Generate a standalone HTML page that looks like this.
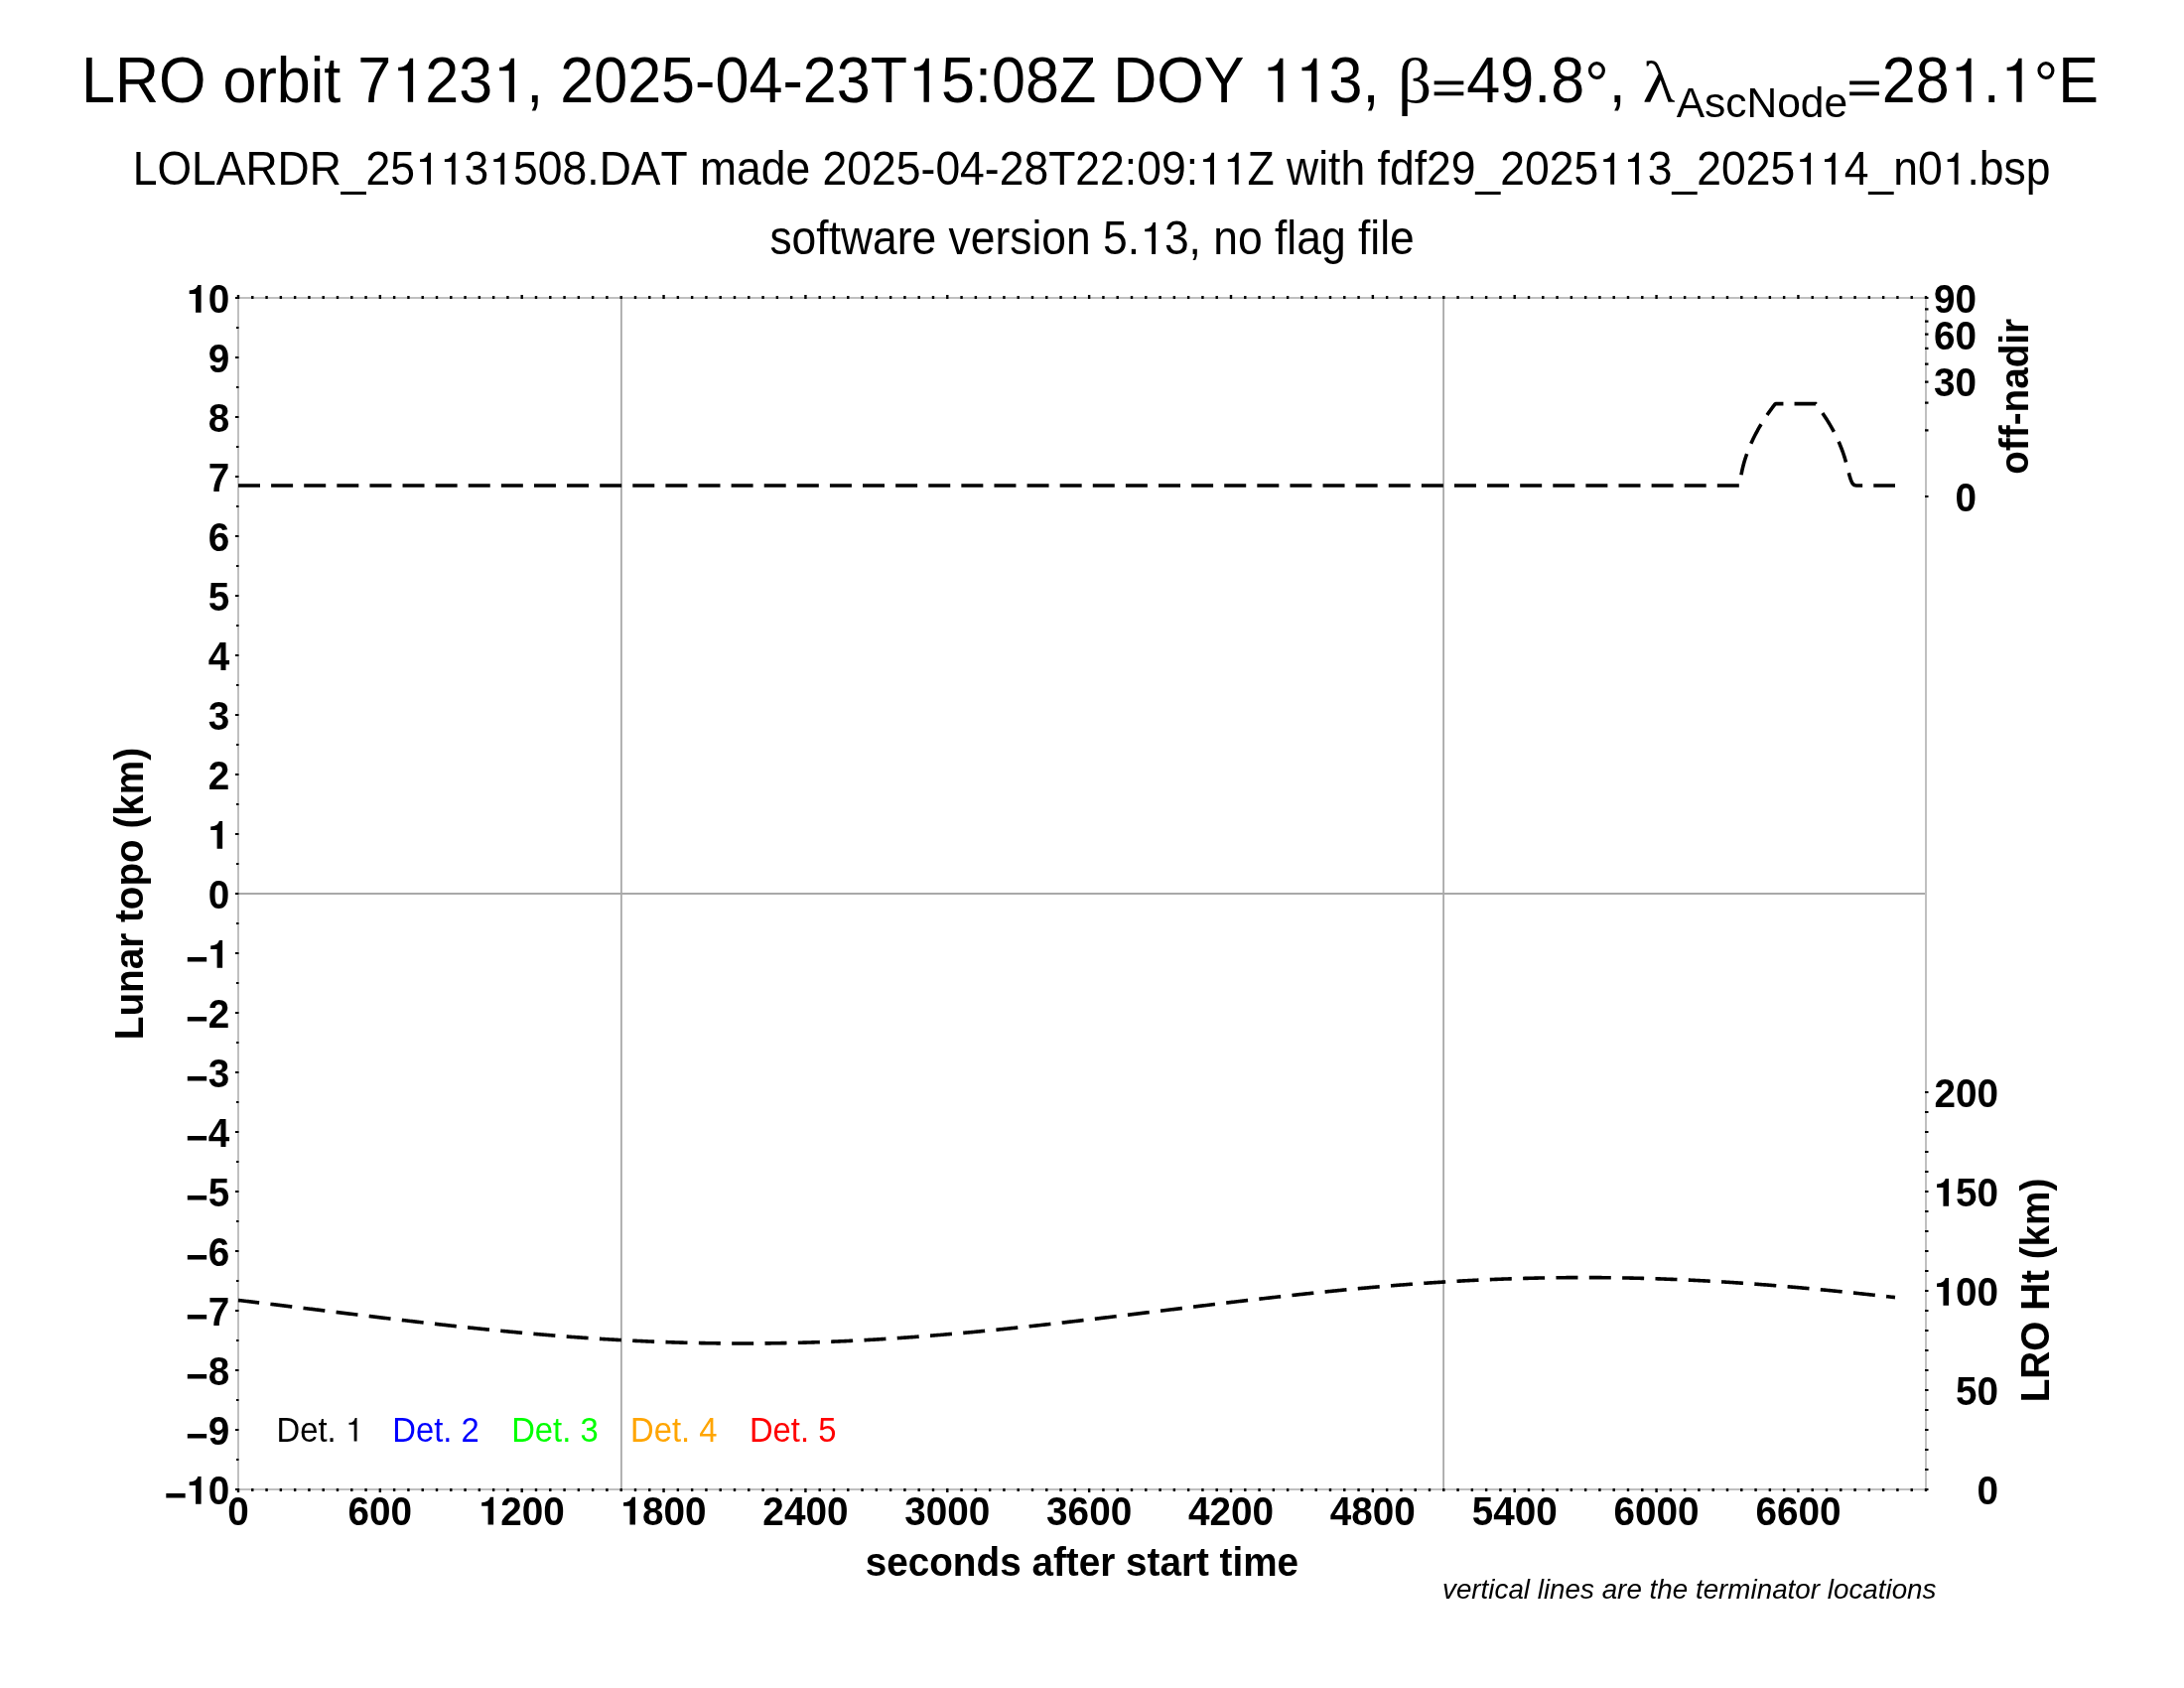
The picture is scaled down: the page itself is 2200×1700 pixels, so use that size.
<!DOCTYPE html><html><head><meta charset="utf-8"><title>LRO orbit 71231</title><style>html,body{margin:0;padding:0;background:#fff;overflow:hidden;}svg{display:block;will-change:transform;}text{font-family:"Liberation Sans",sans-serif;font-kerning:none;font-variant-ligatures:none;white-space:pre;}</style></head><body>
<svg width="2200" height="1700" viewBox="0 0 2200 1700">
<defs><path id="oner" d="M552 0H731V1385H618C560 1150 380 1100 230 1100V988H552Z"/><path id="oneb" d="M472 0H765V1380H590C535 1210 400 1120 134 1110V938H472Z"/><path id="eqr" d="M100 207H1095V327H100ZM100 553H1095V672H100Z"/></defs>
<rect x="0" y="0" width="2200" height="1700" fill="#fff"/>
<g font-size="61.1" transform="translate(0,102.80) scale(1,1.067) translate(0,-102.80)"><text x="81.90" y="102.80">LRO orbit 7</text><use href="#oner" transform="translate(394.32,102.80) scale(0.02983,-0.02983)"/><text x="428.30" y="102.80">23</text><use href="#oner" transform="translate(496.26,102.80) scale(0.02983,-0.02983)"/><text x="530.25" y="102.80">, 2025-04-23T</text><use href="#oner" transform="translate(914.06,102.80) scale(0.02983,-0.02983)"/><text x="948.04" y="102.80">5:08Z DOY </text><use href="#oner" transform="translate(1270.64,102.80) scale(0.02983,-0.02983)"/><use href="#oner" transform="translate(1304.62,102.80) scale(0.02983,-0.02983)"/><text x="1338.60" y="102.80">3, </text><text transform="translate(1407.93,102.80) scale(1.1,0.9700)" x="0" y="0" style="font-family:'Liberation Serif',serif">β</text><use href="#eqr" transform="translate(1441.67,102.80) scale(0.02983,-0.02983)"/><text x="1477.35" y="102.80">49.8</text><text x="1596.27" y="106.60">°</text><text x="1620.71" y="102.80">, </text><text transform="translate(1654.86,102.80) scale(1.1,0.8913)" x="0" y="0" style="font-family:'Liberation Serif',serif">λ</text></g>
<g font-size="42.5"><text x="1688.70" y="118.40">AscNode</text></g>
<g font-size="61.1" transform="translate(0,102.80) scale(1,1.067) translate(0,-102.80)"><use href="#eqr" transform="translate(1860.20,102.80) scale(0.02983,-0.02983)"/><text x="1895.88" y="102.80">28</text><use href="#oner" transform="translate(1963.84,102.80) scale(0.02983,-0.02983)"/><text x="1997.82" y="102.80">.</text><use href="#oner" transform="translate(2014.80,102.80) scale(0.02983,-0.02983)"/><text x="2048.78" y="106.60">°</text><text x="2073.21" y="102.80">E</text></g>
<g font-size="44.49" transform="translate(0,185.80) scale(1,1.067) translate(0,-185.80)"><text x="133.70" y="185.80">LOLARDR_25</text><use href="#oner" transform="translate(418.08,185.80) scale(0.02172,-0.02172)"/><use href="#oner" transform="translate(442.83,185.80) scale(0.02172,-0.02172)"/><text x="467.57" y="185.80">3</text><use href="#oner" transform="translate(492.31,185.80) scale(0.02172,-0.02172)"/><text x="517.06" y="185.80">508.DAT made 2025-04-28T22:09:</text><use href="#oner" transform="translate(1207.09,185.80) scale(0.02172,-0.02172)"/><use href="#oner" transform="translate(1231.83,185.80) scale(0.02172,-0.02172)"/><text x="1256.57" y="185.80">Z with fdf29_2025</text><use href="#oner" transform="translate(1610.26,185.80) scale(0.02172,-0.02172)"/><use href="#oner" transform="translate(1635.00,185.80) scale(0.02172,-0.02172)"/><text x="1659.74" y="185.80">3_2025</text><use href="#oner" transform="translate(1808.20,185.80) scale(0.02172,-0.02172)"/><use href="#oner" transform="translate(1832.94,185.80) scale(0.02172,-0.02172)"/><text x="1857.69" y="185.80">4_n0</text><use href="#oner" transform="translate(1956.66,185.80) scale(0.02172,-0.02172)"/><text x="1981.40" y="185.80">.bsp</text></g>
<g font-size="44.42" transform="translate(0,256.00) scale(1,1.067) translate(0,-256.00)"><text x="775.40" y="256.00">software version 5.</text><use href="#oner" transform="translate(1148.20,256.00) scale(0.02169,-0.02169)"/><text x="1172.90" y="256.00">3, no flag file</text></g>
<line x1="240" y1="900" x2="1940" y2="900" stroke="#a9a9a9" stroke-width="1.8"/>
<line x1="625.9" y1="300" x2="625.9" y2="1500" stroke="#a9a9a9" stroke-width="1.8"/>
<line x1="1454.1" y1="300" x2="1454.1" y2="1500" stroke="#a9a9a9" stroke-width="1.8"/>
<rect x="240" y="300" width="1700" height="1200" fill="none" stroke="#c0c0c0" stroke-width="2"/>
<path d="M238.80 1499.00H241.20V1503.00H238.80ZM238.80 297.00H241.20V301.00H238.80ZM253.09 1499.00H255.49V1502.00H253.09ZM253.09 298.00H255.49V301.00H253.09ZM267.37 1499.00H269.77V1502.00H267.37ZM267.37 298.00H269.77V301.00H267.37ZM281.66 1499.00H284.06V1502.00H281.66ZM281.66 298.00H284.06V301.00H281.66ZM295.94 1499.00H298.34V1502.00H295.94ZM295.94 298.00H298.34V301.00H295.94ZM310.23 1499.00H312.63V1502.00H310.23ZM310.23 298.00H312.63V301.00H310.23ZM324.51 1499.00H326.91V1502.00H324.51ZM324.51 298.00H326.91V301.00H324.51ZM338.80 1499.00H341.20V1502.00H338.80ZM338.80 298.00H341.20V301.00H338.80ZM353.09 1499.00H355.49V1502.00H353.09ZM353.09 298.00H355.49V301.00H353.09ZM367.37 1499.00H369.77V1502.00H367.37ZM367.37 298.00H369.77V301.00H367.37ZM381.66 1499.00H384.06V1503.00H381.66ZM381.66 297.00H384.06V301.00H381.66ZM395.94 1499.00H398.34V1502.00H395.94ZM395.94 298.00H398.34V301.00H395.94ZM410.23 1499.00H412.63V1502.00H410.23ZM410.23 298.00H412.63V301.00H410.23ZM424.51 1499.00H426.91V1502.00H424.51ZM424.51 298.00H426.91V301.00H424.51ZM438.80 1499.00H441.20V1502.00H438.80ZM438.80 298.00H441.20V301.00H438.80ZM453.09 1499.00H455.49V1502.00H453.09ZM453.09 298.00H455.49V301.00H453.09ZM467.37 1499.00H469.77V1502.00H467.37ZM467.37 298.00H469.77V301.00H467.37ZM481.66 1499.00H484.06V1502.00H481.66ZM481.66 298.00H484.06V301.00H481.66ZM495.94 1499.00H498.34V1502.00H495.94ZM495.94 298.00H498.34V301.00H495.94ZM510.23 1499.00H512.63V1502.00H510.23ZM510.23 298.00H512.63V301.00H510.23ZM524.51 1499.00H526.91V1503.00H524.51ZM524.51 297.00H526.91V301.00H524.51ZM538.80 1499.00H541.20V1502.00H538.80ZM538.80 298.00H541.20V301.00H538.80ZM553.09 1499.00H555.49V1502.00H553.09ZM553.09 298.00H555.49V301.00H553.09ZM567.37 1499.00H569.77V1502.00H567.37ZM567.37 298.00H569.77V301.00H567.37ZM581.66 1499.00H584.06V1502.00H581.66ZM581.66 298.00H584.06V301.00H581.66ZM595.94 1499.00H598.34V1502.00H595.94ZM595.94 298.00H598.34V301.00H595.94ZM610.23 1499.00H612.63V1502.00H610.23ZM610.23 298.00H612.63V301.00H610.23ZM624.51 1499.00H626.91V1502.00H624.51ZM624.51 298.00H626.91V301.00H624.51ZM638.80 1499.00H641.20V1502.00H638.80ZM638.80 298.00H641.20V301.00H638.80ZM653.09 1499.00H655.49V1502.00H653.09ZM653.09 298.00H655.49V301.00H653.09ZM667.37 1499.00H669.77V1503.00H667.37ZM667.37 297.00H669.77V301.00H667.37ZM681.66 1499.00H684.06V1502.00H681.66ZM681.66 298.00H684.06V301.00H681.66ZM695.94 1499.00H698.34V1502.00H695.94ZM695.94 298.00H698.34V301.00H695.94ZM710.23 1499.00H712.63V1502.00H710.23ZM710.23 298.00H712.63V301.00H710.23ZM724.51 1499.00H726.91V1502.00H724.51ZM724.51 298.00H726.91V301.00H724.51ZM738.80 1499.00H741.20V1502.00H738.80ZM738.80 298.00H741.20V301.00H738.80ZM753.09 1499.00H755.49V1502.00H753.09ZM753.09 298.00H755.49V301.00H753.09ZM767.37 1499.00H769.77V1502.00H767.37ZM767.37 298.00H769.77V301.00H767.37ZM781.66 1499.00H784.06V1502.00H781.66ZM781.66 298.00H784.06V301.00H781.66ZM795.94 1499.00H798.34V1502.00H795.94ZM795.94 298.00H798.34V301.00H795.94ZM810.23 1499.00H812.63V1503.00H810.23ZM810.23 297.00H812.63V301.00H810.23ZM824.51 1499.00H826.91V1502.00H824.51ZM824.51 298.00H826.91V301.00H824.51ZM838.80 1499.00H841.20V1502.00H838.80ZM838.80 298.00H841.20V301.00H838.80ZM853.09 1499.00H855.49V1502.00H853.09ZM853.09 298.00H855.49V301.00H853.09ZM867.37 1499.00H869.77V1502.00H867.37ZM867.37 298.00H869.77V301.00H867.37ZM881.66 1499.00H884.06V1502.00H881.66ZM881.66 298.00H884.06V301.00H881.66ZM895.94 1499.00H898.34V1502.00H895.94ZM895.94 298.00H898.34V301.00H895.94ZM910.23 1499.00H912.63V1502.00H910.23ZM910.23 298.00H912.63V301.00H910.23ZM924.51 1499.00H926.91V1502.00H924.51ZM924.51 298.00H926.91V301.00H924.51ZM938.80 1499.00H941.20V1502.00H938.80ZM938.80 298.00H941.20V301.00H938.80ZM953.09 1499.00H955.49V1503.00H953.09ZM953.09 297.00H955.49V301.00H953.09ZM967.37 1499.00H969.77V1502.00H967.37ZM967.37 298.00H969.77V301.00H967.37ZM981.66 1499.00H984.06V1502.00H981.66ZM981.66 298.00H984.06V301.00H981.66ZM995.94 1499.00H998.34V1502.00H995.94ZM995.94 298.00H998.34V301.00H995.94ZM1010.23 1499.00H1012.63V1502.00H1010.23ZM1010.23 298.00H1012.63V301.00H1010.23ZM1024.51 1499.00H1026.91V1502.00H1024.51ZM1024.51 298.00H1026.91V301.00H1024.51ZM1038.80 1499.00H1041.20V1502.00H1038.80ZM1038.80 298.00H1041.20V301.00H1038.80ZM1053.09 1499.00H1055.49V1502.00H1053.09ZM1053.09 298.00H1055.49V301.00H1053.09ZM1067.37 1499.00H1069.77V1502.00H1067.37ZM1067.37 298.00H1069.77V301.00H1067.37ZM1081.66 1499.00H1084.06V1502.00H1081.66ZM1081.66 298.00H1084.06V301.00H1081.66ZM1095.94 1499.00H1098.34V1503.00H1095.94ZM1095.94 297.00H1098.34V301.00H1095.94ZM1110.23 1499.00H1112.63V1502.00H1110.23ZM1110.23 298.00H1112.63V301.00H1110.23ZM1124.51 1499.00H1126.91V1502.00H1124.51ZM1124.51 298.00H1126.91V301.00H1124.51ZM1138.80 1499.00H1141.20V1502.00H1138.80ZM1138.80 298.00H1141.20V301.00H1138.80ZM1153.09 1499.00H1155.49V1502.00H1153.09ZM1153.09 298.00H1155.49V301.00H1153.09ZM1167.37 1499.00H1169.77V1502.00H1167.37ZM1167.37 298.00H1169.77V301.00H1167.37ZM1181.66 1499.00H1184.06V1502.00H1181.66ZM1181.66 298.00H1184.06V301.00H1181.66ZM1195.94 1499.00H1198.34V1502.00H1195.94ZM1195.94 298.00H1198.34V301.00H1195.94ZM1210.23 1499.00H1212.63V1502.00H1210.23ZM1210.23 298.00H1212.63V301.00H1210.23ZM1224.51 1499.00H1226.91V1502.00H1224.51ZM1224.51 298.00H1226.91V301.00H1224.51ZM1238.80 1499.00H1241.20V1503.00H1238.80ZM1238.80 297.00H1241.20V301.00H1238.80ZM1253.09 1499.00H1255.49V1502.00H1253.09ZM1253.09 298.00H1255.49V301.00H1253.09ZM1267.37 1499.00H1269.77V1502.00H1267.37ZM1267.37 298.00H1269.77V301.00H1267.37ZM1281.66 1499.00H1284.06V1502.00H1281.66ZM1281.66 298.00H1284.06V301.00H1281.66ZM1295.94 1499.00H1298.34V1502.00H1295.94ZM1295.94 298.00H1298.34V301.00H1295.94ZM1310.23 1499.00H1312.63V1502.00H1310.23ZM1310.23 298.00H1312.63V301.00H1310.23ZM1324.51 1499.00H1326.91V1502.00H1324.51ZM1324.51 298.00H1326.91V301.00H1324.51ZM1338.80 1499.00H1341.20V1502.00H1338.80ZM1338.80 298.00H1341.20V301.00H1338.80ZM1353.09 1499.00H1355.49V1502.00H1353.09ZM1353.09 298.00H1355.49V301.00H1353.09ZM1367.37 1499.00H1369.77V1502.00H1367.37ZM1367.37 298.00H1369.77V301.00H1367.37ZM1381.66 1499.00H1384.06V1503.00H1381.66ZM1381.66 297.00H1384.06V301.00H1381.66ZM1395.94 1499.00H1398.34V1502.00H1395.94ZM1395.94 298.00H1398.34V301.00H1395.94ZM1410.23 1499.00H1412.63V1502.00H1410.23ZM1410.23 298.00H1412.63V301.00H1410.23ZM1424.51 1499.00H1426.91V1502.00H1424.51ZM1424.51 298.00H1426.91V301.00H1424.51ZM1438.80 1499.00H1441.20V1502.00H1438.80ZM1438.80 298.00H1441.20V301.00H1438.80ZM1453.09 1499.00H1455.49V1502.00H1453.09ZM1453.09 298.00H1455.49V301.00H1453.09ZM1467.37 1499.00H1469.77V1502.00H1467.37ZM1467.37 298.00H1469.77V301.00H1467.37ZM1481.66 1499.00H1484.06V1502.00H1481.66ZM1481.66 298.00H1484.06V301.00H1481.66ZM1495.94 1499.00H1498.34V1502.00H1495.94ZM1495.94 298.00H1498.34V301.00H1495.94ZM1510.23 1499.00H1512.63V1502.00H1510.23ZM1510.23 298.00H1512.63V301.00H1510.23ZM1524.51 1499.00H1526.91V1503.00H1524.51ZM1524.51 297.00H1526.91V301.00H1524.51ZM1538.80 1499.00H1541.20V1502.00H1538.80ZM1538.80 298.00H1541.20V301.00H1538.80ZM1553.09 1499.00H1555.49V1502.00H1553.09ZM1553.09 298.00H1555.49V301.00H1553.09ZM1567.37 1499.00H1569.77V1502.00H1567.37ZM1567.37 298.00H1569.77V301.00H1567.37ZM1581.66 1499.00H1584.06V1502.00H1581.66ZM1581.66 298.00H1584.06V301.00H1581.66ZM1595.94 1499.00H1598.34V1502.00H1595.94ZM1595.94 298.00H1598.34V301.00H1595.94ZM1610.23 1499.00H1612.63V1502.00H1610.23ZM1610.23 298.00H1612.63V301.00H1610.23ZM1624.51 1499.00H1626.91V1502.00H1624.51ZM1624.51 298.00H1626.91V301.00H1624.51ZM1638.80 1499.00H1641.20V1502.00H1638.80ZM1638.80 298.00H1641.20V301.00H1638.80ZM1653.09 1499.00H1655.49V1502.00H1653.09ZM1653.09 298.00H1655.49V301.00H1653.09ZM1667.37 1499.00H1669.77V1503.00H1667.37ZM1667.37 297.00H1669.77V301.00H1667.37ZM1681.66 1499.00H1684.06V1502.00H1681.66ZM1681.66 298.00H1684.06V301.00H1681.66ZM1695.94 1499.00H1698.34V1502.00H1695.94ZM1695.94 298.00H1698.34V301.00H1695.94ZM1710.23 1499.00H1712.63V1502.00H1710.23ZM1710.23 298.00H1712.63V301.00H1710.23ZM1724.51 1499.00H1726.91V1502.00H1724.51ZM1724.51 298.00H1726.91V301.00H1724.51ZM1738.80 1499.00H1741.20V1502.00H1738.80ZM1738.80 298.00H1741.20V301.00H1738.80ZM1753.09 1499.00H1755.49V1502.00H1753.09ZM1753.09 298.00H1755.49V301.00H1753.09ZM1767.37 1499.00H1769.77V1502.00H1767.37ZM1767.37 298.00H1769.77V301.00H1767.37ZM1781.66 1499.00H1784.06V1502.00H1781.66ZM1781.66 298.00H1784.06V301.00H1781.66ZM1795.94 1499.00H1798.34V1502.00H1795.94ZM1795.94 298.00H1798.34V301.00H1795.94ZM1810.23 1499.00H1812.63V1503.00H1810.23ZM1810.23 297.00H1812.63V301.00H1810.23ZM1824.51 1499.00H1826.91V1502.00H1824.51ZM1824.51 298.00H1826.91V301.00H1824.51ZM1838.80 1499.00H1841.20V1502.00H1838.80ZM1838.80 298.00H1841.20V301.00H1838.80ZM1853.09 1499.00H1855.49V1502.00H1853.09ZM1853.09 298.00H1855.49V301.00H1853.09ZM1867.37 1499.00H1869.77V1502.00H1867.37ZM1867.37 298.00H1869.77V301.00H1867.37ZM1881.66 1499.00H1884.06V1502.00H1881.66ZM1881.66 298.00H1884.06V301.00H1881.66ZM1895.94 1499.00H1898.34V1502.00H1895.94ZM1895.94 298.00H1898.34V301.00H1895.94ZM1910.23 1499.00H1912.63V1502.00H1910.23ZM1910.23 298.00H1912.63V301.00H1910.23ZM1924.51 1499.00H1926.91V1502.00H1924.51ZM1924.51 298.00H1926.91V301.00H1924.51ZM1938.80 1499.00H1941.20V1502.00H1938.80ZM1938.80 298.00H1941.20V301.00H1938.80ZM237.00 298.90H240.50V301.10H237.00ZM238.00 328.90H240.50V331.10H238.00ZM237.00 358.90H240.50V361.10H237.00ZM238.00 388.90H240.50V391.10H238.00ZM237.00 418.90H240.50V421.10H237.00ZM238.00 448.90H240.50V451.10H238.00ZM237.00 478.90H240.50V481.10H237.00ZM238.00 508.90H240.50V511.10H238.00ZM237.00 538.90H240.50V541.10H237.00ZM238.00 568.90H240.50V571.10H238.00ZM237.00 598.90H240.50V601.10H237.00ZM238.00 628.90H240.50V631.10H238.00ZM237.00 658.90H240.50V661.10H237.00ZM238.00 688.90H240.50V691.10H238.00ZM237.00 718.90H240.50V721.10H237.00ZM238.00 748.90H240.50V751.10H238.00ZM237.00 778.90H240.50V781.10H237.00ZM238.00 808.90H240.50V811.10H238.00ZM237.00 838.90H240.50V841.10H237.00ZM238.00 868.90H240.50V871.10H238.00ZM237.00 898.90H240.50V901.10H237.00ZM238.00 928.90H240.50V931.10H238.00ZM237.00 958.90H240.50V961.10H237.00ZM238.00 988.90H240.50V991.10H238.00ZM237.00 1018.90H240.50V1021.10H237.00ZM238.00 1048.90H240.50V1051.10H238.00ZM237.00 1078.90H240.50V1081.10H237.00ZM238.00 1108.90H240.50V1111.10H238.00ZM237.00 1138.90H240.50V1141.10H237.00ZM238.00 1168.90H240.50V1171.10H238.00ZM237.00 1198.90H240.50V1201.10H237.00ZM238.00 1228.90H240.50V1231.10H238.00ZM237.00 1258.90H240.50V1261.10H237.00ZM238.00 1288.90H240.50V1291.10H238.00ZM237.00 1318.90H240.50V1321.10H237.00ZM238.00 1348.90H240.50V1351.10H238.00ZM237.00 1378.90H240.50V1381.10H237.00ZM238.00 1408.90H240.50V1411.10H238.00ZM237.00 1438.90H240.50V1441.10H237.00ZM238.00 1468.90H240.50V1471.10H238.00ZM237.00 1498.90H240.50V1501.10H237.00ZM1939.00 498.90H1942.50V501.10H1939.00ZM1939.00 432.23H1942.50V434.43H1939.00ZM1939.00 404.62H1942.50V406.82H1939.00ZM1939.00 383.43H1942.50V385.63H1939.00ZM1939.00 365.57H1942.50V367.77H1939.00ZM1939.00 349.83H1942.50V352.03H1939.00ZM1939.00 335.60H1942.50V337.80H1939.00ZM1939.00 322.52H1942.50V324.72H1939.00ZM1939.00 310.34H1942.50V312.54H1939.00ZM1939.00 298.90H1942.50V301.10H1939.00ZM1939.00 1498.90H1942.50V1501.10H1939.00ZM1939.00 1478.90H1942.50V1481.10H1939.00ZM1939.00 1458.90H1942.50V1461.10H1939.00ZM1939.00 1438.90H1942.50V1441.10H1939.00ZM1939.00 1418.90H1942.50V1421.10H1939.00ZM1939.00 1398.90H1942.50V1401.10H1939.00ZM1939.00 1378.90H1942.50V1381.10H1939.00ZM1939.00 1358.90H1942.50V1361.10H1939.00ZM1939.00 1338.90H1942.50V1341.10H1939.00ZM1939.00 1318.90H1942.50V1321.10H1939.00ZM1939.00 1298.90H1942.50V1301.10H1939.00ZM1939.00 1278.90H1942.50V1281.10H1939.00ZM1939.00 1258.90H1942.50V1261.10H1939.00ZM1939.00 1238.90H1942.50V1241.10H1939.00ZM1939.00 1218.90H1942.50V1221.10H1939.00ZM1939.00 1198.90H1942.50V1201.10H1939.00ZM1939.00 1178.90H1942.50V1181.10H1939.00ZM1939.00 1158.90H1942.50V1161.10H1939.00ZM1939.00 1138.90H1942.50V1141.10H1939.00ZM1939.00 1118.90H1942.50V1121.10H1939.00ZM1939.00 1098.90H1942.50V1101.10H1939.00Z" fill="#000"/>
<g font-size="38.7" font-weight="bold" transform="translate(0,314.85) scale(1,1.067) translate(0,-314.85)"><use href="#oneb" transform="translate(188.15,314.85) scale(0.01890,-0.01890)"/><text x="209.68" y="314.85">0</text></g>
<g font-size="38.7" font-weight="bold" transform="translate(0,374.85) scale(1,1.067) translate(0,-374.85)"><text x="209.68" y="374.85">9</text></g>
<g font-size="38.7" font-weight="bold" transform="translate(0,434.85) scale(1,1.067) translate(0,-434.85)"><text x="209.68" y="434.85">8</text></g>
<g font-size="38.7" font-weight="bold" transform="translate(0,494.85) scale(1,1.067) translate(0,-494.85)"><text x="209.68" y="494.85">7</text></g>
<g font-size="38.7" font-weight="bold" transform="translate(0,554.85) scale(1,1.067) translate(0,-554.85)"><text x="209.68" y="554.85">6</text></g>
<g font-size="38.7" font-weight="bold" transform="translate(0,614.85) scale(1,1.067) translate(0,-614.85)"><text x="209.68" y="614.85">5</text></g>
<g font-size="38.7" font-weight="bold" transform="translate(0,674.85) scale(1,1.067) translate(0,-674.85)"><text x="209.68" y="674.85">4</text></g>
<g font-size="38.7" font-weight="bold" transform="translate(0,734.85) scale(1,1.067) translate(0,-734.85)"><text x="209.68" y="734.85">3</text></g>
<g font-size="38.7" font-weight="bold" transform="translate(0,794.85) scale(1,1.067) translate(0,-794.85)"><text x="209.68" y="794.85">2</text></g>
<g font-size="38.7" font-weight="bold" transform="translate(0,854.85) scale(1,1.067) translate(0,-854.85)"><use href="#oneb" transform="translate(209.68,854.85) scale(0.01890,-0.01890)"/></g>
<g font-size="38.7" font-weight="bold" transform="translate(0,914.85) scale(1,1.067) translate(0,-914.85)"><text x="209.68" y="914.85">0</text></g>
<g font-size="38.7" font-weight="bold" transform="translate(0,974.85) scale(1,1.067) translate(0,-974.85)"><text x="187.08" y="979.25">−</text><use href="#oneb" transform="translate(209.68,974.85) scale(0.01890,-0.01890)"/></g>
<g font-size="38.7" font-weight="bold" transform="translate(0,1034.85) scale(1,1.067) translate(0,-1034.85)"><text x="187.08" y="1039.25">−</text><text x="209.68" y="1034.85">2</text></g>
<g font-size="38.7" font-weight="bold" transform="translate(0,1094.85) scale(1,1.067) translate(0,-1094.85)"><text x="187.08" y="1099.25">−</text><text x="209.68" y="1094.85">3</text></g>
<g font-size="38.7" font-weight="bold" transform="translate(0,1154.85) scale(1,1.067) translate(0,-1154.85)"><text x="187.08" y="1159.25">−</text><text x="209.68" y="1154.85">4</text></g>
<g font-size="38.7" font-weight="bold" transform="translate(0,1214.85) scale(1,1.067) translate(0,-1214.85)"><text x="187.08" y="1219.25">−</text><text x="209.68" y="1214.85">5</text></g>
<g font-size="38.7" font-weight="bold" transform="translate(0,1274.85) scale(1,1.067) translate(0,-1274.85)"><text x="187.08" y="1279.25">−</text><text x="209.68" y="1274.85">6</text></g>
<g font-size="38.7" font-weight="bold" transform="translate(0,1334.85) scale(1,1.067) translate(0,-1334.85)"><text x="187.08" y="1339.25">−</text><text x="209.68" y="1334.85">7</text></g>
<g font-size="38.7" font-weight="bold" transform="translate(0,1394.85) scale(1,1.067) translate(0,-1394.85)"><text x="187.08" y="1399.25">−</text><text x="209.68" y="1394.85">8</text></g>
<g font-size="38.7" font-weight="bold" transform="translate(0,1454.85) scale(1,1.067) translate(0,-1454.85)"><text x="187.08" y="1459.25">−</text><text x="209.68" y="1454.85">9</text></g>
<g font-size="38.7" font-weight="bold" transform="translate(0,1514.85) scale(1,1.067) translate(0,-1514.85)"><text x="165.55" y="1519.25">−</text><use href="#oneb" transform="translate(188.15,1514.85) scale(0.01890,-0.01890)"/><text x="209.68" y="1514.85">0</text></g>
<g font-size="38.7" font-weight="bold" transform="translate(0,1535.60) scale(1,1.067) translate(0,-1535.60)"><text x="229.24" y="1535.60">0</text></g>
<g font-size="38.7" font-weight="bold" transform="translate(0,1535.60) scale(1,1.067) translate(0,-1535.60)"><text x="350.57" y="1535.60">600</text></g>
<g font-size="38.7" font-weight="bold" transform="translate(0,1535.60) scale(1,1.067) translate(0,-1535.60)"><use href="#oneb" transform="translate(482.67,1535.60) scale(0.01890,-0.01890)"/><text x="504.19" y="1535.60">200</text></g>
<g font-size="38.7" font-weight="bold" transform="translate(0,1535.60) scale(1,1.067) translate(0,-1535.60)"><use href="#oneb" transform="translate(625.53,1535.60) scale(0.01890,-0.01890)"/><text x="647.05" y="1535.60">800</text></g>
<g font-size="38.7" font-weight="bold" transform="translate(0,1535.60) scale(1,1.067) translate(0,-1535.60)"><text x="768.38" y="1535.60">2400</text></g>
<g font-size="38.7" font-weight="bold" transform="translate(0,1535.60) scale(1,1.067) translate(0,-1535.60)"><text x="911.24" y="1535.60">3000</text></g>
<g font-size="38.7" font-weight="bold" transform="translate(0,1535.60) scale(1,1.067) translate(0,-1535.60)"><text x="1054.10" y="1535.60">3600</text></g>
<g font-size="38.7" font-weight="bold" transform="translate(0,1535.60) scale(1,1.067) translate(0,-1535.60)"><text x="1196.95" y="1535.60">4200</text></g>
<g font-size="38.7" font-weight="bold" transform="translate(0,1535.60) scale(1,1.067) translate(0,-1535.60)"><text x="1339.81" y="1535.60">4800</text></g>
<g font-size="38.7" font-weight="bold" transform="translate(0,1535.60) scale(1,1.067) translate(0,-1535.60)"><text x="1482.67" y="1535.60">5400</text></g>
<g font-size="38.7" font-weight="bold" transform="translate(0,1535.60) scale(1,1.067) translate(0,-1535.60)"><text x="1625.53" y="1535.60">6000</text></g>
<g font-size="38.7" font-weight="bold" transform="translate(0,1535.60) scale(1,1.067) translate(0,-1535.60)"><text x="1768.38" y="1535.60">6600</text></g>
<g font-size="38.7" font-weight="bold" transform="translate(0,314.85) scale(1,1.067) translate(0,-314.85)"><text x="1948.05" y="314.85">90</text></g>
<g font-size="38.7" font-weight="bold" transform="translate(0,351.55) scale(1,1.067) translate(0,-351.55)"><text x="1948.05" y="351.55">60</text></g>
<g font-size="38.7" font-weight="bold" transform="translate(0,399.38) scale(1,1.067) translate(0,-399.38)"><text x="1948.05" y="399.38">30</text></g>
<g font-size="38.7" font-weight="bold" transform="translate(0,514.85) scale(1,1.067) translate(0,-514.85)"><text x="1969.58" y="514.85">0</text></g>
<g font-size="38.7" font-weight="bold" transform="translate(0,1114.85) scale(1,1.067) translate(0,-1114.85)"><text x="1948.53" y="1114.85">200</text></g>
<g font-size="38.7" font-weight="bold" transform="translate(0,1214.85) scale(1,1.067) translate(0,-1214.85)"><use href="#oneb" transform="translate(1948.53,1214.85) scale(0.01890,-0.01890)"/><text x="1970.05" y="1214.85">50</text></g>
<g font-size="38.7" font-weight="bold" transform="translate(0,1314.85) scale(1,1.067) translate(0,-1314.85)"><use href="#oneb" transform="translate(1948.53,1314.85) scale(0.01890,-0.01890)"/><text x="1970.05" y="1314.85">00</text></g>
<g font-size="38.7" font-weight="bold" transform="translate(0,1414.85) scale(1,1.067) translate(0,-1414.85)"><text x="1970.05" y="1414.85">50</text></g>
<g font-size="38.7" font-weight="bold" transform="translate(0,1514.85) scale(1,1.067) translate(0,-1514.85)"><text x="1991.58" y="1514.85">0</text></g>
<g font-size="38.7" font-weight="bold" transform="translate(144.3,900) rotate(-90) translate(0,0.00) scale(1,1.067) translate(0,0.00)"><text x="-147.26" y="0.00">Lunar topo (km)</text></g>
<g font-size="38.7" font-weight="bold" transform="translate(2042.5,399.3) rotate(-90) translate(0,0.00) scale(1,1.067) translate(0,0.00)"><text x="-78.46" y="0.00">off-nadir</text></g>
<g font-size="38.7" font-weight="bold" transform="translate(2064.1,1299.4) rotate(-90) translate(0,0.00) scale(1,1.067) translate(0,0.00)"><text x="-112.87" y="0.00">LRO Ht (km)</text></g>
<g font-size="38.7" font-weight="bold" transform="translate(0,1587.00) scale(1,1.067) translate(0,-1587.00)"><text x="871.70" y="1587.00">seconds after start time</text></g>
<g font-size="32.8" fill="#000000" transform="translate(0,1451.60) scale(1,1.067) translate(0,-1451.60)"><text x="278.55" y="1451.60">Det. </text><use href="#oner" transform="translate(347.81,1451.60) scale(0.01602,-0.01602)"/></g>
<g font-size="32.8" fill="#0000ff" transform="translate(0,1451.60) scale(1,1.067) translate(0,-1451.60)"><text x="395.25" y="1451.60">Det. 2</text></g>
<g font-size="32.8" fill="#00ff00" transform="translate(0,1451.60) scale(1,1.067) translate(0,-1451.60)"><text x="515.15" y="1451.60">Det. 3</text></g>
<g font-size="32.8" fill="#ffa500" transform="translate(0,1451.60) scale(1,1.067) translate(0,-1451.60)"><text x="635.05" y="1451.60">Det. 4</text></g>
<g font-size="32.8" fill="#ff0000" transform="translate(0,1451.60) scale(1,1.067) translate(0,-1451.60)"><text x="754.95" y="1451.60">Det. 5</text></g>
<g font-size="27.8" font-style="italic"><text x="1453.00" y="1610.40">vertical lines are the terminator locations</text></g>
<path d="M240.0 489.01 241.0 489.01 242.0 489.01 243.0 489.01 244.0 489.01 245.0 489.01 246.0 489.01 247.0 489.01 248.0 489.01 249.0 489.01 250.0 489.01 251.0 489.01 252.0 489.01 253.0 489.01 254.0 489.01 255.0 489.01 256.0 489.01 257.0 489.01 258.0 489.01 259.0 489.01 260.0 489.01 261.0 489.01 262.0 489.01 263.0 489.01 264.0 489.01 265.0 489.01 266.0 489.01 267.0 489.01 268.0 489.01 269.0 489.01 270.0 489.01 271.0 489.01 272.0 489.01 273.0 489.01 274.0 489.01 275.0 489.01 276.0 489.01 277.0 489.01 278.0 489.01 279.0 489.01 280.0 489.01 281.0 489.01 282.0 489.01 283.0 489.01 284.0 489.01 285.0 489.01 286.0 489.01 287.0 489.01 288.0 489.01 289.0 489.01 290.0 489.01 291.0 489.01 292.0 489.01 293.0 489.01 294.0 489.01 295.0 489.01 296.0 489.01 297.0 489.01 298.0 489.01 299.0 489.01 300.0 489.01 301.0 489.01 302.0 489.01 303.0 489.01 304.0 489.01 305.0 489.01 306.0 489.01 307.0 489.01 308.0 489.01 309.0 489.01 310.0 489.01 311.0 489.01 312.0 489.01 313.0 489.01 314.0 489.01 315.0 489.01 316.0 489.01 317.0 489.01 318.0 489.01 319.0 489.01 320.0 489.01 321.0 489.01 322.0 489.01 323.0 489.01 324.0 489.01 325.0 489.01 326.0 489.01 327.0 489.01 328.0 489.01 329.0 489.01 330.0 489.01 331.0 489.01 332.0 489.01 333.0 489.01 334.0 489.01 335.0 489.01 336.0 489.01 337.0 489.01 338.0 489.01 339.0 489.01 340.0 489.01 341.0 489.01 342.0 489.01 343.0 489.01 344.0 489.01 345.0 489.01 346.0 489.01 347.0 489.01 348.0 489.01 349.0 489.01 350.0 489.01 351.0 489.01 352.0 489.01 353.0 489.01 354.0 489.01 355.0 489.01 356.0 489.01 357.0 489.01 358.0 489.01 359.0 489.01 360.0 489.01 361.0 489.01 362.0 489.01 363.0 489.01 364.0 489.01 365.0 489.01 366.0 489.01 367.0 489.01 368.0 489.01 369.0 489.01 370.0 489.01 371.0 489.01 372.0 489.01 373.0 489.01 374.0 489.01 375.0 489.01 376.0 489.01 377.0 489.01 378.0 489.01 379.0 489.01 380.0 489.01 381.0 489.01 382.0 489.01 383.0 489.01 384.0 489.01 385.0 489.01 386.0 489.01 387.0 489.01 388.0 489.01 389.0 489.01 390.0 489.01 391.0 489.01 392.0 489.01 393.0 489.01 394.0 489.01 395.0 489.01 396.0 489.01 397.0 489.01 398.0 489.01 399.0 489.01 400.0 489.01 401.0 489.01 402.0 489.01 403.0 489.01 404.0 489.01 405.0 489.01 406.0 489.01 407.0 489.01 408.0 489.01 409.0 489.01 410.0 489.01 411.0 489.01 412.0 489.01 413.0 489.01 414.0 489.01 415.0 489.01 416.0 489.01 417.0 489.01 418.0 489.01 419.0 489.01 420.0 489.01 421.0 489.01 422.0 489.01 423.0 489.01 424.0 489.01 425.0 489.01 426.0 489.01 427.0 489.01 428.0 489.01 429.0 489.01 430.0 489.01 431.0 489.01 432.0 489.01 433.0 489.01 434.0 489.01 435.0 489.01 436.0 489.01 437.0 489.01 438.0 489.01 439.0 489.01 440.0 489.01 441.0 489.01 442.0 489.01 443.0 489.01 444.0 489.01 445.0 489.01 446.0 489.01 447.0 489.01 448.0 489.01 449.0 489.01 450.0 489.01 451.0 489.01 452.0 489.01 453.0 489.01 454.0 489.01 455.0 489.01 456.0 489.01 457.0 489.01 458.0 489.01 459.0 489.01 460.0 489.01 461.0 489.01 462.0 489.01 463.0 489.01 464.0 489.01 465.0 489.01 466.0 489.01 467.0 489.01 468.0 489.01 469.0 489.01 470.0 489.01 471.0 489.01 472.0 489.01 473.0 489.01 474.0 489.01 475.0 489.01 476.0 489.01 477.0 489.01 478.0 489.01 479.0 489.01 480.0 489.01 481.0 489.01 482.0 489.01 483.0 489.01 484.0 489.01 485.0 489.01 486.0 489.01 487.0 489.01 488.0 489.01 489.0 489.01 490.0 489.01 491.0 489.01 492.0 489.01 493.0 489.01 494.0 489.01 495.0 489.01 496.0 489.01 497.0 489.01 498.0 489.01 499.0 489.01 500.0 489.01 501.0 489.01 502.0 489.01 503.0 489.01 504.0 489.01 505.0 489.01 506.0 489.01 507.0 489.01 508.0 489.01 509.0 489.01 510.0 489.01 511.0 489.01 512.0 489.01 513.0 489.01 514.0 489.01 515.0 489.01 516.0 489.01 517.0 489.01 518.0 489.01 519.0 489.01 520.0 489.01 521.0 489.01 522.0 489.01 523.0 489.01 524.0 489.01 525.0 489.01 526.0 489.01 527.0 489.01 528.0 489.01 529.0 489.01 530.0 489.01 531.0 489.01 532.0 489.01 533.0 489.01 534.0 489.01 535.0 489.01 536.0 489.01 537.0 489.01 538.0 489.01 539.0 489.01 540.0 489.01 541.0 489.01 542.0 489.01 543.0 489.01 544.0 489.01 545.0 489.01 546.0 489.01 547.0 489.01 548.0 489.01 549.0 489.01 550.0 489.01 551.0 489.01 552.0 489.01 553.0 489.01 554.0 489.01 555.0 489.01 556.0 489.01 557.0 489.01 558.0 489.01 559.0 489.01 560.0 489.01 561.0 489.01 562.0 489.01 563.0 489.01 564.0 489.01 565.0 489.01 566.0 489.01 567.0 489.01 568.0 489.01 569.0 489.01 570.0 489.01 571.0 489.01 572.0 489.01 573.0 489.01 574.0 489.01 575.0 489.01 576.0 489.01 577.0 489.01 578.0 489.01 579.0 489.01 580.0 489.01 581.0 489.01 582.0 489.01 583.0 489.01 584.0 489.01 585.0 489.01 586.0 489.01 587.0 489.01 588.0 489.01 589.0 489.01 590.0 489.01 591.0 489.01 592.0 489.01 593.0 489.01 594.0 489.01 595.0 489.01 596.0 489.01 597.0 489.01 598.0 489.01 599.0 489.01 600.0 489.01 601.0 489.01 602.0 489.01 603.0 489.01 604.0 489.01 605.0 489.01 606.0 489.01 607.0 489.01 608.0 489.01 609.0 489.01 610.0 489.01 611.0 489.01 612.0 489.01 613.0 489.01 614.0 489.01 615.0 489.01 616.0 489.01 617.0 489.01 618.0 489.01 619.0 489.01 620.0 489.01 621.0 489.01 622.0 489.01 623.0 489.01 624.0 489.01 625.0 489.01 626.0 489.01 627.0 489.01 628.0 489.01 629.0 489.01 630.0 489.01 631.0 489.01 632.0 489.01 633.0 489.01 634.0 489.01 635.0 489.01 636.0 489.01 637.0 489.01 638.0 489.01 639.0 489.01 640.0 489.01 641.0 489.01 642.0 489.01 643.0 489.01 644.0 489.01 645.0 489.01 646.0 489.01 647.0 489.01 648.0 489.01 649.0 489.01 650.0 489.01 651.0 489.01 652.0 489.01 653.0 489.01 654.0 489.01 655.0 489.01 656.0 489.01 657.0 489.01 658.0 489.01 659.0 489.01 660.0 489.01 661.0 489.01 662.0 489.01 663.0 489.01 664.0 489.01 665.0 489.01 666.0 489.01 667.0 489.01 668.0 489.01 669.0 489.01 670.0 489.01 671.0 489.01 672.0 489.01 673.0 489.01 674.0 489.01 675.0 489.01 676.0 489.01 677.0 489.01 678.0 489.01 679.0 489.01 680.0 489.01 681.0 489.01 682.0 489.01 683.0 489.01 684.0 489.01 685.0 489.01 686.0 489.01 687.0 489.01 688.0 489.01 689.0 489.01 690.0 489.01 691.0 489.01 692.0 489.01 693.0 489.01 694.0 489.01 695.0 489.01 696.0 489.01 697.0 489.01 698.0 489.01 699.0 489.01 700.0 489.01 701.0 489.01 702.0 489.01 703.0 489.01 704.0 489.01 705.0 489.01 706.0 489.01 707.0 489.01 708.0 489.01 709.0 489.01 710.0 489.01 711.0 489.01 712.0 489.01 713.0 489.01 714.0 489.01 715.0 489.01 716.0 489.01 717.0 489.01 718.0 489.01 719.0 489.01 720.0 489.01 721.0 489.01 722.0 489.01 723.0 489.01 724.0 489.01 725.0 489.01 726.0 489.01 727.0 489.01 728.0 489.01 729.0 489.01 730.0 489.01 731.0 489.01 732.0 489.01 733.0 489.01 734.0 489.01 735.0 489.01 736.0 489.01 737.0 489.01 738.0 489.01 739.0 489.01 740.0 489.01 741.0 489.01 742.0 489.01 743.0 489.01 744.0 489.01 745.0 489.01 746.0 489.01 747.0 489.01 748.0 489.01 749.0 489.01 750.0 489.01 751.0 489.01 752.0 489.01 753.0 489.01 754.0 489.01 755.0 489.01 756.0 489.01 757.0 489.01 758.0 489.01 759.0 489.01 760.0 489.01 761.0 489.01 762.0 489.01 763.0 489.01 764.0 489.01 765.0 489.01 766.0 489.01 767.0 489.01 768.0 489.01 769.0 489.01 770.0 489.01 771.0 489.01 772.0 489.01 773.0 489.01 774.0 489.01 775.0 489.01 776.0 489.01 777.0 489.01 778.0 489.01 779.0 489.01 780.0 489.01 781.0 489.01 782.0 489.01 783.0 489.01 784.0 489.01 785.0 489.01 786.0 489.01 787.0 489.01 788.0 489.01 789.0 489.01 790.0 489.01 791.0 489.01 792.0 489.01 793.0 489.01 794.0 489.01 795.0 489.01 796.0 489.01 797.0 489.01 798.0 489.01 799.0 489.01 800.0 489.01 801.0 489.01 802.0 489.01 803.0 489.01 804.0 489.01 805.0 489.01 806.0 489.01 807.0 489.01 808.0 489.01 809.0 489.01 810.0 489.01 811.0 489.01 812.0 489.01 813.0 489.01 814.0 489.01 815.0 489.01 816.0 489.01 817.0 489.01 818.0 489.01 819.0 489.01 820.0 489.01 821.0 489.01 822.0 489.01 823.0 489.01 824.0 489.01 825.0 489.01 826.0 489.01 827.0 489.01 828.0 489.01 829.0 489.01 830.0 489.01 831.0 489.01 832.0 489.01 833.0 489.01 834.0 489.01 835.0 489.01 836.0 489.01 837.0 489.01 838.0 489.01 839.0 489.01 840.0 489.01 841.0 489.01 842.0 489.01 843.0 489.01 844.0 489.01 845.0 489.01 846.0 489.01 847.0 489.01 848.0 489.01 849.0 489.01 850.0 489.01 851.0 489.01 852.0 489.01 853.0 489.01 854.0 489.01 855.0 489.01 856.0 489.01 857.0 489.01 858.0 489.01 859.0 489.01 860.0 489.01 861.0 489.01 862.0 489.01 863.0 489.01 864.0 489.01 865.0 489.01 866.0 489.01 867.0 489.01 868.0 489.01 869.0 489.01 870.0 489.01 871.0 489.01 872.0 489.01 873.0 489.01 874.0 489.01 875.0 489.01 876.0 489.01 877.0 489.01 878.0 489.01 879.0 489.01 880.0 489.01 881.0 489.01 882.0 489.01 883.0 489.01 884.0 489.01 885.0 489.01 886.0 489.01 887.0 489.01 888.0 489.01 889.0 489.01 890.0 489.01 891.0 489.01 892.0 489.01 893.0 489.01 894.0 489.01 895.0 489.01 896.0 489.01 897.0 489.01 898.0 489.01 899.0 489.01 900.0 489.01 901.0 489.01 902.0 489.01 903.0 489.01 904.0 489.01 905.0 489.01 906.0 489.01 907.0 489.01 908.0 489.01 909.0 489.01 910.0 489.01 911.0 489.01 912.0 489.01 913.0 489.01 914.0 489.01 915.0 489.01 916.0 489.01 917.0 489.01 918.0 489.01 919.0 489.01 920.0 489.01 921.0 489.01 922.0 489.01 923.0 489.01 924.0 489.01 925.0 489.01 926.0 489.01 927.0 489.01 928.0 489.01 929.0 489.01 930.0 489.01 931.0 489.01 932.0 489.01 933.0 489.01 934.0 489.01 935.0 489.01 936.0 489.01 937.0 489.01 938.0 489.01 939.0 489.01 940.0 489.01 941.0 489.01 942.0 489.01 943.0 489.01 944.0 489.01 945.0 489.01 946.0 489.01 947.0 489.01 948.0 489.01 949.0 489.01 950.0 489.01 951.0 489.01 952.0 489.01 953.0 489.01 954.0 489.01 955.0 489.01 956.0 489.01 957.0 489.01 958.0 489.01 959.0 489.01 960.0 489.01 961.0 489.01 962.0 489.01 963.0 489.01 964.0 489.01 965.0 489.01 966.0 489.01 967.0 489.01 968.0 489.01 969.0 489.01 970.0 489.01 971.0 489.01 972.0 489.01 973.0 489.01 974.0 489.01 975.0 489.01 976.0 489.01 977.0 489.01 978.0 489.01 979.0 489.01 980.0 489.01 981.0 489.01 982.0 489.01 983.0 489.01 984.0 489.01 985.0 489.01 986.0 489.01 987.0 489.01 988.0 489.01 989.0 489.01 990.0 489.01 991.0 489.01 992.0 489.01 993.0 489.01 994.0 489.01 995.0 489.01 996.0 489.01 997.0 489.01 998.0 489.01 999.0 489.01 1000.0 489.01 1001.0 489.01 1002.0 489.01 1003.0 489.01 1004.0 489.01 1005.0 489.01 1006.0 489.01 1007.0 489.01 1008.0 489.01 1009.0 489.01 1010.0 489.01 1011.0 489.01 1012.0 489.01 1013.0 489.01 1014.0 489.01 1015.0 489.01 1016.0 489.01 1017.0 489.01 1018.0 489.01 1019.0 489.01 1020.0 489.01 1021.0 489.01 1022.0 489.01 1023.0 489.01 1024.0 489.01 1025.0 489.01 1026.0 489.01 1027.0 489.01 1028.0 489.01 1029.0 489.01 1030.0 489.01 1031.0 489.01 1032.0 489.01 1033.0 489.01 1034.0 489.01 1035.0 489.01 1036.0 489.01 1037.0 489.01 1038.0 489.01 1039.0 489.01 1040.0 489.01 1041.0 489.01 1042.0 489.01 1043.0 489.01 1044.0 489.01 1045.0 489.01 1046.0 489.01 1047.0 489.01 1048.0 489.01 1049.0 489.01 1050.0 489.01 1051.0 489.01 1052.0 489.01 1053.0 489.01 1054.0 489.01 1055.0 489.01 1056.0 489.01 1057.0 489.01 1058.0 489.01 1059.0 489.01 1060.0 489.01 1061.0 489.01 1062.0 489.01 1063.0 489.01 1064.0 489.01 1065.0 489.01 1066.0 489.01 1067.0 489.01 1068.0 489.01 1069.0 489.01 1070.0 489.01 1071.0 489.01 1072.0 489.01 1073.0 489.01 1074.0 489.01 1075.0 489.01 1076.0 489.01 1077.0 489.01 1078.0 489.01 1079.0 489.01 1080.0 489.01 1081.0 489.01 1082.0 489.01 1083.0 489.01 1084.0 489.01 1085.0 489.01 1086.0 489.01 1087.0 489.01 1088.0 489.01 1089.0 489.01 1090.0 489.01 1091.0 489.01 1092.0 489.01 1093.0 489.01 1094.0 489.01 1095.0 489.01 1096.0 489.01 1097.0 489.01 1098.0 489.01 1099.0 489.01 1100.0 489.01 1101.0 489.01 1102.0 489.01 1103.0 489.01 1104.0 489.01 1105.0 489.01 1106.0 489.01 1107.0 489.01 1108.0 489.01 1109.0 489.01 1110.0 489.01 1111.0 489.01 1112.0 489.01 1113.0 489.01 1114.0 489.01 1115.0 489.01 1116.0 489.01 1117.0 489.01 1118.0 489.01 1119.0 489.01 1120.0 489.01 1121.0 489.01 1122.0 489.01 1123.0 489.01 1124.0 489.01 1125.0 489.01 1126.0 489.01 1127.0 489.01 1128.0 489.01 1129.0 489.01 1130.0 489.01 1131.0 489.01 1132.0 489.01 1133.0 489.01 1134.0 489.01 1135.0 489.01 1136.0 489.01 1137.0 489.01 1138.0 489.01 1139.0 489.01 1140.0 489.01 1141.0 489.01 1142.0 489.01 1143.0 489.01 1144.0 489.01 1145.0 489.01 1146.0 489.01 1147.0 489.01 1148.0 489.01 1149.0 489.01 1150.0 489.01 1151.0 489.01 1152.0 489.01 1153.0 489.01 1154.0 489.01 1155.0 489.01 1156.0 489.01 1157.0 489.01 1158.0 489.01 1159.0 489.01 1160.0 489.01 1161.0 489.01 1162.0 489.01 1163.0 489.01 1164.0 489.01 1165.0 489.01 1166.0 489.01 1167.0 489.01 1168.0 489.01 1169.0 489.01 1170.0 489.01 1171.0 489.01 1172.0 489.01 1173.0 489.01 1174.0 489.01 1175.0 489.01 1176.0 489.01 1177.0 489.01 1178.0 489.01 1179.0 489.01 1180.0 489.01 1181.0 489.01 1182.0 489.01 1183.0 489.01 1184.0 489.01 1185.0 489.01 1186.0 489.01 1187.0 489.01 1188.0 489.01 1189.0 489.01 1190.0 489.01 1191.0 489.01 1192.0 489.01 1193.0 489.01 1194.0 489.01 1195.0 489.01 1196.0 489.01 1197.0 489.01 1198.0 489.01 1199.0 489.01 1200.0 489.01 1201.0 489.01 1202.0 489.01 1203.0 489.01 1204.0 489.01 1205.0 489.01 1206.0 489.01 1207.0 489.01 1208.0 489.01 1209.0 489.01 1210.0 489.01 1211.0 489.01 1212.0 489.01 1213.0 489.01 1214.0 489.01 1215.0 489.01 1216.0 489.01 1217.0 489.01 1218.0 489.01 1219.0 489.01 1220.0 489.01 1221.0 489.01 1222.0 489.01 1223.0 489.01 1224.0 489.01 1225.0 489.01 1226.0 489.01 1227.0 489.01 1228.0 489.01 1229.0 489.01 1230.0 489.01 1231.0 489.01 1232.0 489.01 1233.0 489.01 1234.0 489.01 1235.0 489.01 1236.0 489.01 1237.0 489.01 1238.0 489.01 1239.0 489.01 1240.0 489.01 1241.0 489.01 1242.0 489.01 1243.0 489.01 1244.0 489.01 1245.0 489.01 1246.0 489.01 1247.0 489.01 1248.0 489.01 1249.0 489.01 1250.0 489.01 1251.0 489.01 1252.0 489.01 1253.0 489.01 1254.0 489.01 1255.0 489.01 1256.0 489.01 1257.0 489.01 1258.0 489.01 1259.0 489.01 1260.0 489.01 1261.0 489.01 1262.0 489.01 1263.0 489.01 1264.0 489.01 1265.0 489.01 1266.0 489.01 1267.0 489.01 1268.0 489.01 1269.0 489.01 1270.0 489.01 1271.0 489.01 1272.0 489.01 1273.0 489.01 1274.0 489.01 1275.0 489.01 1276.0 489.01 1277.0 489.01 1278.0 489.01 1279.0 489.01 1280.0 489.01 1281.0 489.01 1282.0 489.01 1283.0 489.01 1284.0 489.01 1285.0 489.01 1286.0 489.01 1287.0 489.01 1288.0 489.01 1289.0 489.01 1290.0 489.01 1291.0 489.01 1292.0 489.01 1293.0 489.01 1294.0 489.01 1295.0 489.01 1296.0 489.01 1297.0 489.01 1298.0 489.01 1299.0 489.01 1300.0 489.01 1301.0 489.01 1302.0 489.01 1303.0 489.01 1304.0 489.01 1305.0 489.01 1306.0 489.01 1307.0 489.01 1308.0 489.01 1309.0 489.01 1310.0 489.01 1311.0 489.01 1312.0 489.01 1313.0 489.01 1314.0 489.01 1315.0 489.01 1316.0 489.01 1317.0 489.01 1318.0 489.01 1319.0 489.01 1320.0 489.01 1321.0 489.01 1322.0 489.01 1323.0 489.01 1324.0 489.01 1325.0 489.01 1326.0 489.01 1327.0 489.01 1328.0 489.01 1329.0 489.01 1330.0 489.01 1331.0 489.01 1332.0 489.01 1333.0 489.01 1334.0 489.01 1335.0 489.01 1336.0 489.01 1337.0 489.01 1338.0 489.01 1339.0 489.01 1340.0 489.01 1341.0 489.01 1342.0 489.01 1343.0 489.01 1344.0 489.01 1345.0 489.01 1346.0 489.01 1347.0 489.01 1348.0 489.01 1349.0 489.01 1350.0 489.01 1351.0 489.01 1352.0 489.01 1353.0 489.01 1354.0 489.01 1355.0 489.01 1356.0 489.01 1357.0 489.01 1358.0 489.01 1359.0 489.01 1360.0 489.01 1361.0 489.01 1362.0 489.01 1363.0 489.01 1364.0 489.01 1365.0 489.01 1366.0 489.01 1367.0 489.01 1368.0 489.01 1369.0 489.01 1370.0 489.01 1371.0 489.01 1372.0 489.01 1373.0 489.01 1374.0 489.01 1375.0 489.01 1376.0 489.01 1377.0 489.01 1378.0 489.01 1379.0 489.01 1380.0 489.01 1381.0 489.01 1382.0 489.01 1383.0 489.01 1384.0 489.01 1385.0 489.01 1386.0 489.01 1387.0 489.01 1388.0 489.01 1389.0 489.01 1390.0 489.01 1391.0 489.01 1392.0 489.01 1393.0 489.01 1394.0 489.01 1395.0 489.01 1396.0 489.01 1397.0 489.01 1398.0 489.01 1399.0 489.01 1400.0 489.01 1401.0 489.01 1402.0 489.01 1403.0 489.01 1404.0 489.01 1405.0 489.01 1406.0 489.01 1407.0 489.01 1408.0 489.01 1409.0 489.01 1410.0 489.01 1411.0 489.01 1412.0 489.01 1413.0 489.01 1414.0 489.01 1415.0 489.01 1416.0 489.01 1417.0 489.01 1418.0 489.01 1419.0 489.01 1420.0 489.01 1421.0 489.01 1422.0 489.01 1423.0 489.01 1424.0 489.01 1425.0 489.01 1426.0 489.01 1427.0 489.01 1428.0 489.01 1429.0 489.01 1430.0 489.01 1431.0 489.01 1432.0 489.01 1433.0 489.01 1434.0 489.01 1435.0 489.01 1436.0 489.01 1437.0 489.01 1438.0 489.01 1439.0 489.01 1440.0 489.01 1441.0 489.01 1442.0 489.01 1443.0 489.01 1444.0 489.01 1445.0 489.01 1446.0 489.01 1447.0 489.01 1448.0 489.01 1449.0 489.01 1450.0 489.01 1451.0 489.01 1452.0 489.01 1453.0 489.01 1454.0 489.01 1455.0 489.01 1456.0 489.01 1457.0 489.01 1458.0 489.01 1459.0 489.01 1460.0 489.01 1461.0 489.01 1462.0 489.01 1463.0 489.01 1464.0 489.01 1465.0 489.01 1466.0 489.01 1467.0 489.01 1468.0 489.01 1469.0 489.01 1470.0 489.01 1471.0 489.01 1472.0 489.01 1473.0 489.01 1474.0 489.01 1475.0 489.01 1476.0 489.01 1477.0 489.01 1478.0 489.01 1479.0 489.01 1480.0 489.01 1481.0 489.01 1482.0 489.01 1483.0 489.01 1484.0 489.01 1485.0 489.01 1486.0 489.01 1487.0 489.01 1488.0 489.01 1489.0 489.01 1490.0 489.01 1491.0 489.01 1492.0 489.01 1493.0 489.01 1494.0 489.01 1495.0 489.01 1496.0 489.01 1497.0 489.01 1498.0 489.01 1499.0 489.01 1500.0 489.01 1501.0 489.01 1502.0 489.01 1503.0 489.01 1504.0 489.01 1505.0 489.01 1506.0 489.01 1507.0 489.01 1508.0 489.01 1509.0 489.01 1510.0 489.01 1511.0 489.01 1512.0 489.01 1513.0 489.01 1514.0 489.01 1515.0 489.01 1516.0 489.01 1517.0 489.01 1518.0 489.01 1519.0 489.01 1520.0 489.01 1521.0 489.01 1522.0 489.01 1523.0 489.01 1524.0 489.01 1525.0 489.01 1526.0 489.01 1527.0 489.01 1528.0 489.01 1529.0 489.01 1530.0 489.01 1531.0 489.01 1532.0 489.01 1533.0 489.01 1534.0 489.01 1535.0 489.01 1536.0 489.01 1537.0 489.01 1538.0 489.01 1539.0 489.01 1540.0 489.01 1541.0 489.01 1542.0 489.01 1543.0 489.01 1544.0 489.01 1545.0 489.01 1546.0 489.01 1547.0 489.01 1548.0 489.01 1549.0 489.01 1550.0 489.01 1551.0 489.01 1552.0 489.01 1553.0 489.01 1554.0 489.01 1555.0 489.01 1556.0 489.01 1557.0 489.01 1558.0 489.01 1559.0 489.01 1560.0 489.01 1561.0 489.01 1562.0 489.01 1563.0 489.01 1564.0 489.01 1565.0 489.01 1566.0 489.01 1567.0 489.01 1568.0 489.01 1569.0 489.01 1570.0 489.01 1571.0 489.01 1572.0 489.01 1573.0 489.01 1574.0 489.01 1575.0 489.01 1576.0 489.01 1577.0 489.01 1578.0 489.01 1579.0 489.01 1580.0 489.01 1581.0 489.01 1582.0 489.01 1583.0 489.01 1584.0 489.01 1585.0 489.01 1586.0 489.01 1587.0 489.01 1588.0 489.01 1589.0 489.01 1590.0 489.01 1591.0 489.01 1592.0 489.01 1593.0 489.01 1594.0 489.01 1595.0 489.01 1596.0 489.01 1597.0 489.01 1598.0 489.01 1599.0 489.01 1600.0 489.01 1601.0 489.01 1602.0 489.01 1603.0 489.01 1604.0 489.01 1605.0 489.01 1606.0 489.01 1607.0 489.01 1608.0 489.01 1609.0 489.01 1610.0 489.01 1611.0 489.01 1612.0 489.01 1613.0 489.01 1614.0 489.01 1615.0 489.01 1616.0 489.01 1617.0 489.01 1618.0 489.01 1619.0 489.01 1620.0 489.01 1621.0 489.01 1622.0 489.01 1623.0 489.01 1624.0 489.01 1625.0 489.01 1626.0 489.01 1627.0 489.01 1628.0 489.01 1629.0 489.01 1630.0 489.01 1631.0 489.01 1632.0 489.01 1633.0 489.01 1634.0 489.01 1635.0 489.01 1636.0 489.01 1637.0 489.01 1638.0 489.01 1639.0 489.01 1640.0 489.01 1641.0 489.01 1642.0 489.01 1643.0 489.01 1644.0 489.01 1645.0 489.01 1646.0 489.01 1647.0 489.01 1648.0 489.01 1649.0 489.01 1650.0 489.01 1651.0 489.01 1652.0 489.01 1653.0 489.01 1654.0 489.01 1655.0 489.01 1656.0 489.01 1657.0 489.01 1658.0 489.01 1659.0 489.01 1660.0 489.01 1661.0 489.01 1662.0 489.01 1663.0 489.01 1664.0 489.01 1665.0 489.01 1666.0 489.01 1667.0 489.01 1668.0 489.01 1669.0 489.01 1670.0 489.01 1671.0 489.01 1672.0 489.01 1673.0 489.01 1674.0 489.01 1675.0 489.01 1676.0 489.01 1677.0 489.01 1678.0 489.01 1679.0 489.01 1680.0 489.01 1681.0 489.01 1682.0 489.01 1683.0 489.01 1684.0 489.01 1685.0 489.01 1686.0 489.01 1687.0 489.01 1688.0 489.01 1689.0 489.01 1690.0 489.01 1691.0 489.01 1692.0 489.01 1693.0 489.01 1694.0 489.01 1695.0 489.01 1696.0 489.01 1697.0 489.01 1698.0 489.01 1699.0 489.01 1700.0 489.01 1701.0 489.01 1702.0 489.01 1703.0 489.01 1704.0 489.01 1705.0 489.01 1706.0 489.01 1707.0 489.01 1708.0 489.01 1709.0 489.01 1710.0 489.01 1711.0 489.01 1712.0 489.01 1713.0 489.01 1714.0 489.01 1715.0 489.01 1716.0 489.01 1717.0 489.01 1718.0 489.01 1719.0 489.01 1720.0 489.01 1721.0 489.01 1722.0 489.01 1723.0 489.01 1724.0 489.01 1725.0 489.01 1726.0 489.01 1727.0 489.01 1728.0 489.01 1729.0 489.01 1730.0 489.01 1731.0 489.01 1732.0 489.01 1733.0 489.01 1734.0 489.01 1735.0 489.01 1736.0 489.01 1737.0 489.01 1738.0 489.01 1739.0 489.01 1740.0 489.01 1741.0 489.01 1742.0 489.01 1743.0 489.01 1744.0 489.01 1745.0 489.01 1746.0 489.01 1747.0 489.01 1748.0 489.01 1749.0 489.01 1750.0 489.01 1751.0 489.01 1752.0 489.01 1753.0 484.48 1754.0 478.07 1755.0 473.15 1756.0 469.00 1757.0 465.35 1758.0 462.04 1759.0 459.01 1760.0 456.18 1761.0 453.52 1762.0 451.01 1763.0 448.62 1764.0 446.33 1765.0 444.14 1766.0 442.03 1767.0 440.00 1768.0 438.03 1769.0 436.12 1770.0 434.27 1771.0 432.47 1772.0 430.72 1773.0 429.01 1774.0 427.34 1775.0 425.70 1776.0 424.11 1777.0 422.54 1778.0 421.01 1779.0 419.50 1780.0 418.03 1781.0 416.58 1782.0 415.15 1783.0 413.75 1784.0 412.37 1785.0 411.01 1786.0 409.67 1787.0 408.35 1788.0 407.05 1789.0 406.67 1790.0 406.67 1791.0 406.67 1792.0 406.67 1793.0 406.67 1794.0 406.67 1795.0 406.67 1796.0 406.67 1797.0 406.67 1798.0 406.67 1799.0 406.67 1800.0 406.67 1801.0 406.67 1802.0 406.67 1803.0 406.67 1804.0 406.67 1805.0 406.67 1806.0 406.67 1807.0 406.67 1808.0 406.67 1809.0 406.67 1810.0 406.67 1811.0 406.67 1812.0 406.67 1813.0 406.67 1814.0 406.67 1815.0 406.67 1816.0 406.67 1817.0 406.67 1818.0 406.67 1819.0 406.67 1820.0 406.67 1821.0 406.67 1822.0 406.67 1823.0 406.67 1824.0 406.67 1825.0 406.67 1826.0 406.67 1827.0 406.67 1828.0 406.67 1829.0 406.67 1830.0 407.85 1831.0 409.19 1832.0 410.55 1833.0 411.93 1834.0 413.33 1835.0 414.75 1836.0 416.20 1837.0 417.67 1838.0 419.17 1839.0 420.70 1840.0 422.26 1841.0 423.85 1842.0 425.47 1843.0 427.14 1844.0 428.83 1845.0 430.58 1846.0 432.36 1847.0 434.19 1848.0 436.08 1849.0 438.03 1850.0 440.03 1851.0 442.11 1852.0 444.54 1853.0 446.82 1854.0 449.21 1855.0 451.72 1856.0 454.39 1857.0 457.25 1858.0 460.33 1859.0 463.67 1860.0 467.29 1861.0 471.13 1862.0 475.05 1863.0 478.81 1864.0 482.13 1865.0 484.78 1866.0 486.66 1867.0 487.84 1868.0 488.50 1869.0 488.81 1870.0 488.94 1871.0 488.99 1872.0 489.00 1873.0 489.01 1874.0 489.01 1875.0 489.01 1876.0 489.01 1877.0 489.01 1878.0 489.01 1879.0 489.01 1880.0 489.01 1881.0 489.01 1882.0 489.01 1883.0 489.01 1884.0 489.01 1885.0 489.01 1886.0 489.01 1887.0 489.01 1888.0 489.01 1889.0 489.01 1890.0 489.01 1891.0 489.01 1892.0 489.01 1893.0 489.01 1894.0 489.01 1895.0 489.01 1896.0 489.01 1897.0 489.01 1898.0 489.01 1899.0 489.01 1900.0 489.01 1901.0 489.01 1902.0 489.01 1903.0 489.01 1904.0 489.01 1905.0 489.01 1906.0 489.01 1907.0 489.01 1908.0 489.01 1909.0 489.01" fill="none" stroke="#000" stroke-width="3.6" stroke-dasharray="22 11.107"/>
<path d="M240.0 1309.48 241.0 1309.59 242.0 1309.71 243.0 1309.83 244.0 1309.94 245.0 1310.06 246.0 1310.18 247.0 1310.30 248.0 1310.42 249.0 1310.53 250.0 1310.65 251.0 1310.77 252.0 1310.89 253.0 1311.01 254.0 1311.13 255.0 1311.25 256.0 1311.36 257.0 1311.48 258.0 1311.60 259.0 1311.72 260.0 1311.84 261.0 1311.96 262.0 1312.08 263.0 1312.20 264.0 1312.32 265.0 1312.44 266.0 1312.56 267.0 1312.68 268.0 1312.80 269.0 1312.92 270.0 1313.04 271.0 1313.16 272.0 1313.28 273.0 1313.41 274.0 1313.53 275.0 1313.65 276.0 1313.77 277.0 1313.89 278.0 1314.01 279.0 1314.13 280.0 1314.25 281.0 1314.37 282.0 1314.50 283.0 1314.62 284.0 1314.74 285.0 1314.86 286.0 1314.98 287.0 1315.11 288.0 1315.23 289.0 1315.35 290.0 1315.47 291.0 1315.59 292.0 1315.72 293.0 1315.84 294.0 1315.96 295.0 1316.08 296.0 1316.20 297.0 1316.33 298.0 1316.45 299.0 1316.57 300.0 1316.69 301.0 1316.82 302.0 1316.94 303.0 1317.06 304.0 1317.19 305.0 1317.31 306.0 1317.43 307.0 1317.55 308.0 1317.68 309.0 1317.80 310.0 1317.92 311.0 1318.05 312.0 1318.17 313.0 1318.29 314.0 1318.41 315.0 1318.54 316.0 1318.66 317.0 1318.78 318.0 1318.91 319.0 1319.03 320.0 1319.15 321.0 1319.28 322.0 1319.40 323.0 1319.52 324.0 1319.65 325.0 1319.77 326.0 1319.89 327.0 1320.02 328.0 1320.14 329.0 1320.26 330.0 1320.38 331.0 1320.51 332.0 1320.63 333.0 1320.75 334.0 1320.88 335.0 1321.00 336.0 1321.12 337.0 1321.25 338.0 1321.37 339.0 1321.49 340.0 1321.62 341.0 1321.74 342.0 1321.86 343.0 1321.98 344.0 1322.11 345.0 1322.23 346.0 1322.35 347.0 1322.48 348.0 1322.60 349.0 1322.72 350.0 1322.84 351.0 1322.97 352.0 1323.09 353.0 1323.21 354.0 1323.33 355.0 1323.46 356.0 1323.58 357.0 1323.70 358.0 1323.82 359.0 1323.95 360.0 1324.07 361.0 1324.19 362.0 1324.31 363.0 1324.43 364.0 1324.56 365.0 1324.68 366.0 1324.80 367.0 1324.92 368.0 1325.04 369.0 1325.16 370.0 1325.29 371.0 1325.41 372.0 1325.53 373.0 1325.65 374.0 1325.77 375.0 1325.89 376.0 1326.01 377.0 1326.13 378.0 1326.26 379.0 1326.38 380.0 1326.50 381.0 1326.62 382.0 1326.74 383.0 1326.86 384.0 1326.98 385.0 1327.10 386.0 1327.22 387.0 1327.34 388.0 1327.46 389.0 1327.58 390.0 1327.70 391.0 1327.82 392.0 1327.94 393.0 1328.06 394.0 1328.18 395.0 1328.29 396.0 1328.41 397.0 1328.53 398.0 1328.65 399.0 1328.77 400.0 1328.89 401.0 1329.01 402.0 1329.13 403.0 1329.24 404.0 1329.36 405.0 1329.48 406.0 1329.60 407.0 1329.71 408.0 1329.83 409.0 1329.95 410.0 1330.07 411.0 1330.18 412.0 1330.30 413.0 1330.42 414.0 1330.53 415.0 1330.65 416.0 1330.77 417.0 1330.88 418.0 1331.00 419.0 1331.11 420.0 1331.23 421.0 1331.35 422.0 1331.46 423.0 1331.58 424.0 1331.69 425.0 1331.81 426.0 1331.92 427.0 1332.04 428.0 1332.15 429.0 1332.26 430.0 1332.38 431.0 1332.49 432.0 1332.61 433.0 1332.72 434.0 1332.83 435.0 1332.95 436.0 1333.06 437.0 1333.17 438.0 1333.28 439.0 1333.40 440.0 1333.51 441.0 1333.62 442.0 1333.73 443.0 1333.84 444.0 1333.96 445.0 1334.07 446.0 1334.18 447.0 1334.29 448.0 1334.40 449.0 1334.51 450.0 1334.62 451.0 1334.73 452.0 1334.84 453.0 1334.95 454.0 1335.06 455.0 1335.17 456.0 1335.28 457.0 1335.39 458.0 1335.50 459.0 1335.60 460.0 1335.71 461.0 1335.82 462.0 1335.93 463.0 1336.04 464.0 1336.14 465.0 1336.25 466.0 1336.36 467.0 1336.46 468.0 1336.57 469.0 1336.68 470.0 1336.78 471.0 1336.89 472.0 1336.99 473.0 1337.10 474.0 1337.20 475.0 1337.31 476.0 1337.41 477.0 1337.52 478.0 1337.62 479.0 1337.73 480.0 1337.83 481.0 1337.93 482.0 1338.04 483.0 1338.14 484.0 1338.24 485.0 1338.34 486.0 1338.44 487.0 1338.55 488.0 1338.65 489.0 1338.75 490.0 1338.85 491.0 1338.95 492.0 1339.05 493.0 1339.15 494.0 1339.25 495.0 1339.35 496.0 1339.45 497.0 1339.55 498.0 1339.65 499.0 1339.75 500.0 1339.85 501.0 1339.94 502.0 1340.04 503.0 1340.14 504.0 1340.24 505.0 1340.33 506.0 1340.43 507.0 1340.53 508.0 1340.62 509.0 1340.72 510.0 1340.81 511.0 1340.91 512.0 1341.00 513.0 1341.10 514.0 1341.19 515.0 1341.29 516.0 1341.38 517.0 1341.47 518.0 1341.57 519.0 1341.66 520.0 1341.75 521.0 1341.84 522.0 1341.94 523.0 1342.03 524.0 1342.12 525.0 1342.21 526.0 1342.30 527.0 1342.39 528.0 1342.48 529.0 1342.57 530.0 1342.66 531.0 1342.75 532.0 1342.84 533.0 1342.93 534.0 1343.02 535.0 1343.10 536.0 1343.19 537.0 1343.28 538.0 1343.37 539.0 1343.45 540.0 1343.54 541.0 1343.62 542.0 1343.71 543.0 1343.79 544.0 1343.88 545.0 1343.96 546.0 1344.05 547.0 1344.13 548.0 1344.22 549.0 1344.30 550.0 1344.38 551.0 1344.46 552.0 1344.55 553.0 1344.63 554.0 1344.71 555.0 1344.79 556.0 1344.87 557.0 1344.95 558.0 1345.03 559.0 1345.11 560.0 1345.19 561.0 1345.27 562.0 1345.35 563.0 1345.43 564.0 1345.51 565.0 1345.59 566.0 1345.66 567.0 1345.74 568.0 1345.82 569.0 1345.89 570.0 1345.97 571.0 1346.04 572.0 1346.12 573.0 1346.19 574.0 1346.27 575.0 1346.34 576.0 1346.42 577.0 1346.49 578.0 1346.56 579.0 1346.64 580.0 1346.71 581.0 1346.78 582.0 1346.85 583.0 1346.92 584.0 1346.99 585.0 1347.06 586.0 1347.13 587.0 1347.20 588.0 1347.27 589.0 1347.34 590.0 1347.41 591.0 1347.48 592.0 1347.55 593.0 1347.61 594.0 1347.68 595.0 1347.75 596.0 1347.81 597.0 1347.88 598.0 1347.95 599.0 1348.01 600.0 1348.08 601.0 1348.14 602.0 1348.20 603.0 1348.27 604.0 1348.33 605.0 1348.39 606.0 1348.46 607.0 1348.52 608.0 1348.58 609.0 1348.64 610.0 1348.70 611.0 1348.76 612.0 1348.82 613.0 1348.88 614.0 1348.94 615.0 1349.00 616.0 1349.06 617.0 1349.12 618.0 1349.17 619.0 1349.23 620.0 1349.29 621.0 1349.34 622.0 1349.40 623.0 1349.46 624.0 1349.51 625.0 1349.57 626.0 1349.62 627.0 1349.67 628.0 1349.73 629.0 1349.78 630.0 1349.83 631.0 1349.89 632.0 1349.94 633.0 1349.99 634.0 1350.04 635.0 1350.09 636.0 1350.14 637.0 1350.19 638.0 1350.24 639.0 1350.29 640.0 1350.34 641.0 1350.39 642.0 1350.43 643.0 1350.48 644.0 1350.53 645.0 1350.57 646.0 1350.62 647.0 1350.67 648.0 1350.71 649.0 1350.76 650.0 1350.80 651.0 1350.84 652.0 1350.89 653.0 1350.93 654.0 1350.97 655.0 1351.01 656.0 1351.06 657.0 1351.10 658.0 1351.14 659.0 1351.18 660.0 1351.22 661.0 1351.26 662.0 1351.30 663.0 1351.34 664.0 1351.37 665.0 1351.41 666.0 1351.45 667.0 1351.49 668.0 1351.52 669.0 1351.56 670.0 1351.60 671.0 1351.63 672.0 1351.67 673.0 1351.70 674.0 1351.73 675.0 1351.77 676.0 1351.80 677.0 1351.83 678.0 1351.86 679.0 1351.90 680.0 1351.93 681.0 1351.96 682.0 1351.99 683.0 1352.02 684.0 1352.05 685.0 1352.08 686.0 1352.11 687.0 1352.13 688.0 1352.16 689.0 1352.19 690.0 1352.22 691.0 1352.24 692.0 1352.27 693.0 1352.29 694.0 1352.32 695.0 1352.34 696.0 1352.37 697.0 1352.39 698.0 1352.41 699.0 1352.44 700.0 1352.46 701.0 1352.48 702.0 1352.50 703.0 1352.52 704.0 1352.54 705.0 1352.56 706.0 1352.58 707.0 1352.60 708.0 1352.62 709.0 1352.64 710.0 1352.66 711.0 1352.68 712.0 1352.69 713.0 1352.71 714.0 1352.73 715.0 1352.74 716.0 1352.76 717.0 1352.77 718.0 1352.78 719.0 1352.80 720.0 1352.81 721.0 1352.82 722.0 1352.84 723.0 1352.85 724.0 1352.86 725.0 1352.87 726.0 1352.88 727.0 1352.89 728.0 1352.90 729.0 1352.91 730.0 1352.92 731.0 1352.93 732.0 1352.94 733.0 1352.94 734.0 1352.95 735.0 1352.96 736.0 1352.96 737.0 1352.97 738.0 1352.97 739.0 1352.98 740.0 1352.98 741.0 1352.99 742.0 1352.99 743.0 1352.99 744.0 1352.99 745.0 1353.00 746.0 1353.00 747.0 1353.00 748.0 1353.00 749.0 1353.00 750.0 1353.00 751.0 1353.00 752.0 1353.00 753.0 1353.00 754.0 1352.99 755.0 1352.99 756.0 1352.99 757.0 1352.98 758.0 1352.98 759.0 1352.98 760.0 1352.97 761.0 1352.97 762.0 1352.96 763.0 1352.95 764.0 1352.95 765.0 1352.94 766.0 1352.93 767.0 1352.92 768.0 1352.91 769.0 1352.91 770.0 1352.90 771.0 1352.89 772.0 1352.88 773.0 1352.87 774.0 1352.85 775.0 1352.84 776.0 1352.83 777.0 1352.82 778.0 1352.80 779.0 1352.79 780.0 1352.78 781.0 1352.76 782.0 1352.75 783.0 1352.73 784.0 1352.72 785.0 1352.70 786.0 1352.68 787.0 1352.67 788.0 1352.65 789.0 1352.63 790.0 1352.61 791.0 1352.59 792.0 1352.57 793.0 1352.55 794.0 1352.53 795.0 1352.51 796.0 1352.49 797.0 1352.47 798.0 1352.45 799.0 1352.42 800.0 1352.40 801.0 1352.38 802.0 1352.35 803.0 1352.33 804.0 1352.30 805.0 1352.28 806.0 1352.25 807.0 1352.23 808.0 1352.20 809.0 1352.17 810.0 1352.15 811.0 1352.12 812.0 1352.09 813.0 1352.06 814.0 1352.03 815.0 1352.00 816.0 1351.97 817.0 1351.94 818.0 1351.91 819.0 1351.88 820.0 1351.85 821.0 1351.81 822.0 1351.78 823.0 1351.75 824.0 1351.71 825.0 1351.68 826.0 1351.64 827.0 1351.61 828.0 1351.57 829.0 1351.54 830.0 1351.50 831.0 1351.46 832.0 1351.43 833.0 1351.39 834.0 1351.35 835.0 1351.31 836.0 1351.27 837.0 1351.23 838.0 1351.20 839.0 1351.15 840.0 1351.11 841.0 1351.07 842.0 1351.03 843.0 1350.99 844.0 1350.95 845.0 1350.90 846.0 1350.86 847.0 1350.82 848.0 1350.77 849.0 1350.73 850.0 1350.68 851.0 1350.64 852.0 1350.59 853.0 1350.55 854.0 1350.50 855.0 1350.45 856.0 1350.40 857.0 1350.36 858.0 1350.31 859.0 1350.26 860.0 1350.21 861.0 1350.16 862.0 1350.11 863.0 1350.06 864.0 1350.01 865.0 1349.96 866.0 1349.91 867.0 1349.85 868.0 1349.80 869.0 1349.75 870.0 1349.70 871.0 1349.64 872.0 1349.59 873.0 1349.53 874.0 1349.48 875.0 1349.42 876.0 1349.37 877.0 1349.31 878.0 1349.25 879.0 1349.20 880.0 1349.14 881.0 1349.08 882.0 1349.02 883.0 1348.96 884.0 1348.91 885.0 1348.85 886.0 1348.79 887.0 1348.73 888.0 1348.67 889.0 1348.60 890.0 1348.54 891.0 1348.48 892.0 1348.42 893.0 1348.36 894.0 1348.29 895.0 1348.23 896.0 1348.17 897.0 1348.10 898.0 1348.04 899.0 1347.97 900.0 1347.91 901.0 1347.84 902.0 1347.77 903.0 1347.71 904.0 1347.64 905.0 1347.57 906.0 1347.51 907.0 1347.44 908.0 1347.37 909.0 1347.30 910.0 1347.23 911.0 1347.16 912.0 1347.09 913.0 1347.02 914.0 1346.95 915.0 1346.88 916.0 1346.81 917.0 1346.74 918.0 1346.67 919.0 1346.59 920.0 1346.52 921.0 1346.45 922.0 1346.37 923.0 1346.30 924.0 1346.22 925.0 1346.15 926.0 1346.07 927.0 1346.00 928.0 1345.92 929.0 1345.85 930.0 1345.77 931.0 1345.69 932.0 1345.62 933.0 1345.54 934.0 1345.46 935.0 1345.38 936.0 1345.30 937.0 1345.22 938.0 1345.15 939.0 1345.07 940.0 1344.99 941.0 1344.91 942.0 1344.82 943.0 1344.74 944.0 1344.66 945.0 1344.58 946.0 1344.50 947.0 1344.42 948.0 1344.33 949.0 1344.25 950.0 1344.17 951.0 1344.08 952.0 1344.00 953.0 1343.91 954.0 1343.83 955.0 1343.74 956.0 1343.66 957.0 1343.57 958.0 1343.49 959.0 1343.40 960.0 1343.31 961.0 1343.23 962.0 1343.14 963.0 1343.05 964.0 1342.96 965.0 1342.87 966.0 1342.79 967.0 1342.70 968.0 1342.61 969.0 1342.52 970.0 1342.43 971.0 1342.34 972.0 1342.25 973.0 1342.16 974.0 1342.06 975.0 1341.97 976.0 1341.88 977.0 1341.79 978.0 1341.70 979.0 1341.60 980.0 1341.51 981.0 1341.42 982.0 1341.32 983.0 1341.23 984.0 1341.14 985.0 1341.04 986.0 1340.95 987.0 1340.85 988.0 1340.76 989.0 1340.66 990.0 1340.56 991.0 1340.47 992.0 1340.37 993.0 1340.27 994.0 1340.18 995.0 1340.08 996.0 1339.98 997.0 1339.88 998.0 1339.79 999.0 1339.69 1000.0 1339.59 1001.0 1339.49 1002.0 1339.39 1003.0 1339.29 1004.0 1339.19 1005.0 1339.09 1006.0 1338.99 1007.0 1338.89 1008.0 1338.79 1009.0 1338.69 1010.0 1338.59 1011.0 1338.49 1012.0 1338.38 1013.0 1338.28 1014.0 1338.18 1015.0 1338.08 1016.0 1337.97 1017.0 1337.87 1018.0 1337.77 1019.0 1337.66 1020.0 1337.56 1021.0 1337.45 1022.0 1337.35 1023.0 1337.25 1024.0 1337.14 1025.0 1337.04 1026.0 1336.93 1027.0 1336.82 1028.0 1336.72 1029.0 1336.61 1030.0 1336.51 1031.0 1336.40 1032.0 1336.29 1033.0 1336.19 1034.0 1336.08 1035.0 1335.97 1036.0 1335.86 1037.0 1335.76 1038.0 1335.65 1039.0 1335.54 1040.0 1335.43 1041.0 1335.32 1042.0 1335.21 1043.0 1335.10 1044.0 1334.99 1045.0 1334.89 1046.0 1334.78 1047.0 1334.67 1048.0 1334.56 1049.0 1334.44 1050.0 1334.33 1051.0 1334.22 1052.0 1334.11 1053.0 1334.00 1054.0 1333.89 1055.0 1333.78 1056.0 1333.67 1057.0 1333.55 1058.0 1333.44 1059.0 1333.33 1060.0 1333.22 1061.0 1333.10 1062.0 1332.99 1063.0 1332.88 1064.0 1332.76 1065.0 1332.65 1066.0 1332.54 1067.0 1332.42 1068.0 1332.31 1069.0 1332.20 1070.0 1332.08 1071.0 1331.97 1072.0 1331.85 1073.0 1331.74 1074.0 1331.62 1075.0 1331.51 1076.0 1331.39 1077.0 1331.28 1078.0 1331.16 1079.0 1331.05 1080.0 1330.93 1081.0 1330.81 1082.0 1330.70 1083.0 1330.58 1084.0 1330.46 1085.0 1330.35 1086.0 1330.23 1087.0 1330.11 1088.0 1330.00 1089.0 1329.88 1090.0 1329.76 1091.0 1329.64 1092.0 1329.53 1093.0 1329.41 1094.0 1329.29 1095.0 1329.17 1096.0 1329.05 1097.0 1328.94 1098.0 1328.82 1099.0 1328.70 1100.0 1328.58 1101.0 1328.46 1102.0 1328.34 1103.0 1328.22 1104.0 1328.10 1105.0 1327.98 1106.0 1327.87 1107.0 1327.75 1108.0 1327.63 1109.0 1327.51 1110.0 1327.39 1111.0 1327.27 1112.0 1327.15 1113.0 1327.03 1114.0 1326.91 1115.0 1326.79 1116.0 1326.67 1117.0 1326.54 1118.0 1326.42 1119.0 1326.30 1120.0 1326.18 1121.0 1326.06 1122.0 1325.94 1123.0 1325.82 1124.0 1325.70 1125.0 1325.58 1126.0 1325.46 1127.0 1325.33 1128.0 1325.21 1129.0 1325.09 1130.0 1324.97 1131.0 1324.85 1132.0 1324.73 1133.0 1324.60 1134.0 1324.48 1135.0 1324.36 1136.0 1324.24 1137.0 1324.12 1138.0 1323.99 1139.0 1323.87 1140.0 1323.75 1141.0 1323.63 1142.0 1323.51 1143.0 1323.38 1144.0 1323.26 1145.0 1323.14 1146.0 1323.02 1147.0 1322.89 1148.0 1322.77 1149.0 1322.65 1150.0 1322.52 1151.0 1322.40 1152.0 1322.28 1153.0 1322.16 1154.0 1322.03 1155.0 1321.91 1156.0 1321.79 1157.0 1321.66 1158.0 1321.54 1159.0 1321.42 1160.0 1321.30 1161.0 1321.17 1162.0 1321.05 1163.0 1320.93 1164.0 1320.80 1165.0 1320.68 1166.0 1320.56 1167.0 1320.43 1168.0 1320.31 1169.0 1320.19 1170.0 1320.06 1171.0 1319.94 1172.0 1319.82 1173.0 1319.70 1174.0 1319.57 1175.0 1319.45 1176.0 1319.33 1177.0 1319.20 1178.0 1319.08 1179.0 1318.96 1180.0 1318.83 1181.0 1318.71 1182.0 1318.59 1183.0 1318.46 1184.0 1318.34 1185.0 1318.22 1186.0 1318.10 1187.0 1317.97 1188.0 1317.85 1189.0 1317.73 1190.0 1317.60 1191.0 1317.48 1192.0 1317.36 1193.0 1317.23 1194.0 1317.11 1195.0 1316.99 1196.0 1316.87 1197.0 1316.74 1198.0 1316.62 1199.0 1316.50 1200.0 1316.38 1201.0 1316.25 1202.0 1316.13 1203.0 1316.01 1204.0 1315.89 1205.0 1315.76 1206.0 1315.64 1207.0 1315.52 1208.0 1315.40 1209.0 1315.28 1210.0 1315.15 1211.0 1315.03 1212.0 1314.91 1213.0 1314.79 1214.0 1314.67 1215.0 1314.54 1216.0 1314.42 1217.0 1314.30 1218.0 1314.18 1219.0 1314.06 1220.0 1313.94 1221.0 1313.82 1222.0 1313.70 1223.0 1313.57 1224.0 1313.45 1225.0 1313.33 1226.0 1313.21 1227.0 1313.09 1228.0 1312.97 1229.0 1312.85 1230.0 1312.73 1231.0 1312.61 1232.0 1312.49 1233.0 1312.37 1234.0 1312.25 1235.0 1312.13 1236.0 1312.01 1237.0 1311.89 1238.0 1311.77 1239.0 1311.65 1240.0 1311.53 1241.0 1311.41 1242.0 1311.29 1243.0 1311.17 1244.0 1311.06 1245.0 1310.94 1246.0 1310.82 1247.0 1310.70 1248.0 1310.58 1249.0 1310.46 1250.0 1310.35 1251.0 1310.23 1252.0 1310.11 1253.0 1309.99 1254.0 1309.87 1255.0 1309.76 1256.0 1309.64 1257.0 1309.52 1258.0 1309.40 1259.0 1309.29 1260.0 1309.17 1261.0 1309.05 1262.0 1308.94 1263.0 1308.82 1264.0 1308.71 1265.0 1308.59 1266.0 1308.47 1267.0 1308.36 1268.0 1308.24 1269.0 1308.13 1270.0 1308.01 1271.0 1307.90 1272.0 1307.78 1273.0 1307.67 1274.0 1307.55 1275.0 1307.44 1276.0 1307.32 1277.0 1307.21 1278.0 1307.10 1279.0 1306.98 1280.0 1306.87 1281.0 1306.76 1282.0 1306.64 1283.0 1306.53 1284.0 1306.42 1285.0 1306.30 1286.0 1306.19 1287.0 1306.08 1288.0 1305.97 1289.0 1305.86 1290.0 1305.74 1291.0 1305.63 1292.0 1305.52 1293.0 1305.41 1294.0 1305.30 1295.0 1305.19 1296.0 1305.08 1297.0 1304.97 1298.0 1304.86 1299.0 1304.75 1300.0 1304.64 1301.0 1304.53 1302.0 1304.42 1303.0 1304.31 1304.0 1304.20 1305.0 1304.09 1306.0 1303.98 1307.0 1303.88 1308.0 1303.77 1309.0 1303.66 1310.0 1303.55 1311.0 1303.45 1312.0 1303.34 1313.0 1303.23 1314.0 1303.13 1315.0 1303.02 1316.0 1302.91 1317.0 1302.81 1318.0 1302.70 1319.0 1302.60 1320.0 1302.49 1321.0 1302.39 1322.0 1302.28 1323.0 1302.18 1324.0 1302.07 1325.0 1301.97 1326.0 1301.86 1327.0 1301.76 1328.0 1301.66 1329.0 1301.55 1330.0 1301.45 1331.0 1301.35 1332.0 1301.25 1333.0 1301.15 1334.0 1301.04 1335.0 1300.94 1336.0 1300.84 1337.0 1300.74 1338.0 1300.64 1339.0 1300.54 1340.0 1300.44 1341.0 1300.34 1342.0 1300.24 1343.0 1300.14 1344.0 1300.04 1345.0 1299.94 1346.0 1299.84 1347.0 1299.74 1348.0 1299.65 1349.0 1299.55 1350.0 1299.45 1351.0 1299.35 1352.0 1299.26 1353.0 1299.16 1354.0 1299.06 1355.0 1298.97 1356.0 1298.87 1357.0 1298.78 1358.0 1298.68 1359.0 1298.59 1360.0 1298.49 1361.0 1298.40 1362.0 1298.30 1363.0 1298.21 1364.0 1298.12 1365.0 1298.02 1366.0 1297.93 1367.0 1297.84 1368.0 1297.75 1369.0 1297.65 1370.0 1297.56 1371.0 1297.47 1372.0 1297.38 1373.0 1297.29 1374.0 1297.20 1375.0 1297.11 1376.0 1297.02 1377.0 1296.93 1378.0 1296.84 1379.0 1296.75 1380.0 1296.66 1381.0 1296.58 1382.0 1296.49 1383.0 1296.40 1384.0 1296.31 1385.0 1296.23 1386.0 1296.14 1387.0 1296.05 1388.0 1295.97 1389.0 1295.88 1390.0 1295.80 1391.0 1295.71 1392.0 1295.63 1393.0 1295.54 1394.0 1295.46 1395.0 1295.38 1396.0 1295.29 1397.0 1295.21 1398.0 1295.13 1399.0 1295.04 1400.0 1294.96 1401.0 1294.88 1402.0 1294.80 1403.0 1294.72 1404.0 1294.64 1405.0 1294.56 1406.0 1294.48 1407.0 1294.40 1408.0 1294.32 1409.0 1294.24 1410.0 1294.16 1411.0 1294.08 1412.0 1294.01 1413.0 1293.93 1414.0 1293.85 1415.0 1293.78 1416.0 1293.70 1417.0 1293.62 1418.0 1293.55 1419.0 1293.47 1420.0 1293.40 1421.0 1293.32 1422.0 1293.25 1423.0 1293.18 1424.0 1293.10 1425.0 1293.03 1426.0 1292.96 1427.0 1292.88 1428.0 1292.81 1429.0 1292.74 1430.0 1292.67 1431.0 1292.60 1432.0 1292.53 1433.0 1292.46 1434.0 1292.39 1435.0 1292.32 1436.0 1292.25 1437.0 1292.18 1438.0 1292.11 1439.0 1292.05 1440.0 1291.98 1441.0 1291.91 1442.0 1291.84 1443.0 1291.78 1444.0 1291.71 1445.0 1291.65 1446.0 1291.58 1447.0 1291.52 1448.0 1291.45 1449.0 1291.39 1450.0 1291.33 1451.0 1291.26 1452.0 1291.20 1453.0 1291.14 1454.0 1291.08 1455.0 1291.01 1456.0 1290.95 1457.0 1290.89 1458.0 1290.83 1459.0 1290.77 1460.0 1290.71 1461.0 1290.65 1462.0 1290.59 1463.0 1290.54 1464.0 1290.48 1465.0 1290.42 1466.0 1290.36 1467.0 1290.31 1468.0 1290.25 1469.0 1290.19 1470.0 1290.14 1471.0 1290.08 1472.0 1290.03 1473.0 1289.97 1474.0 1289.92 1475.0 1289.87 1476.0 1289.81 1477.0 1289.76 1478.0 1289.71 1479.0 1289.66 1480.0 1289.61 1481.0 1289.56 1482.0 1289.50 1483.0 1289.45 1484.0 1289.40 1485.0 1289.36 1486.0 1289.31 1487.0 1289.26 1488.0 1289.21 1489.0 1289.16 1490.0 1289.11 1491.0 1289.07 1492.0 1289.02 1493.0 1288.98 1494.0 1288.93 1495.0 1288.89 1496.0 1288.84 1497.0 1288.80 1498.0 1288.75 1499.0 1288.71 1500.0 1288.67 1501.0 1288.62 1502.0 1288.58 1503.0 1288.54 1504.0 1288.50 1505.0 1288.46 1506.0 1288.42 1507.0 1288.38 1508.0 1288.34 1509.0 1288.30 1510.0 1288.26 1511.0 1288.22 1512.0 1288.18 1513.0 1288.15 1514.0 1288.11 1515.0 1288.07 1516.0 1288.04 1517.0 1288.00 1518.0 1287.97 1519.0 1287.93 1520.0 1287.90 1521.0 1287.86 1522.0 1287.83 1523.0 1287.80 1524.0 1287.76 1525.0 1287.73 1526.0 1287.70 1527.0 1287.67 1528.0 1287.64 1529.0 1287.61 1530.0 1287.58 1531.0 1287.55 1532.0 1287.52 1533.0 1287.49 1534.0 1287.46 1535.0 1287.44 1536.0 1287.41 1537.0 1287.38 1538.0 1287.35 1539.0 1287.33 1540.0 1287.30 1541.0 1287.28 1542.0 1287.25 1543.0 1287.23 1544.0 1287.21 1545.0 1287.18 1546.0 1287.16 1547.0 1287.14 1548.0 1287.12 1549.0 1287.09 1550.0 1287.07 1551.0 1287.05 1552.0 1287.03 1553.0 1287.01 1554.0 1286.99 1555.0 1286.98 1556.0 1286.96 1557.0 1286.94 1558.0 1286.92 1559.0 1286.91 1560.0 1286.89 1561.0 1286.87 1562.0 1286.86 1563.0 1286.84 1564.0 1286.83 1565.0 1286.81 1566.0 1286.80 1567.0 1286.79 1568.0 1286.77 1569.0 1286.76 1570.0 1286.75 1571.0 1286.74 1572.0 1286.73 1573.0 1286.72 1574.0 1286.71 1575.0 1286.70 1576.0 1286.69 1577.0 1286.68 1578.0 1286.67 1579.0 1286.66 1580.0 1286.66 1581.0 1286.65 1582.0 1286.64 1583.0 1286.64 1584.0 1286.63 1585.0 1286.63 1586.0 1286.62 1587.0 1286.62 1588.0 1286.61 1589.0 1286.61 1590.0 1286.61 1591.0 1286.60 1592.0 1286.60 1593.0 1286.60 1594.0 1286.60 1595.0 1286.60 1596.0 1286.60 1597.0 1286.60 1598.0 1286.60 1599.0 1286.60 1600.0 1286.60 1601.0 1286.61 1602.0 1286.61 1603.0 1286.61 1604.0 1286.62 1605.0 1286.62 1606.0 1286.62 1607.0 1286.63 1608.0 1286.64 1609.0 1286.64 1610.0 1286.65 1611.0 1286.65 1612.0 1286.66 1613.0 1286.67 1614.0 1286.68 1615.0 1286.69 1616.0 1286.70 1617.0 1286.70 1618.0 1286.71 1619.0 1286.72 1620.0 1286.74 1621.0 1286.75 1622.0 1286.76 1623.0 1286.77 1624.0 1286.78 1625.0 1286.80 1626.0 1286.81 1627.0 1286.82 1628.0 1286.84 1629.0 1286.85 1630.0 1286.87 1631.0 1286.89 1632.0 1286.90 1633.0 1286.92 1634.0 1286.94 1635.0 1286.95 1636.0 1286.97 1637.0 1286.99 1638.0 1287.01 1639.0 1287.03 1640.0 1287.05 1641.0 1287.07 1642.0 1287.09 1643.0 1287.11 1644.0 1287.13 1645.0 1287.16 1646.0 1287.18 1647.0 1287.20 1648.0 1287.23 1649.0 1287.25 1650.0 1287.27 1651.0 1287.30 1652.0 1287.32 1653.0 1287.35 1654.0 1287.38 1655.0 1287.40 1656.0 1287.43 1657.0 1287.46 1658.0 1287.49 1659.0 1287.51 1660.0 1287.54 1661.0 1287.57 1662.0 1287.60 1663.0 1287.63 1664.0 1287.66 1665.0 1287.69 1666.0 1287.73 1667.0 1287.76 1668.0 1287.79 1669.0 1287.82 1670.0 1287.86 1671.0 1287.89 1672.0 1287.92 1673.0 1287.96 1674.0 1287.99 1675.0 1288.03 1676.0 1288.07 1677.0 1288.10 1678.0 1288.14 1679.0 1288.18 1680.0 1288.21 1681.0 1288.25 1682.0 1288.29 1683.0 1288.33 1684.0 1288.37 1685.0 1288.41 1686.0 1288.45 1687.0 1288.49 1688.0 1288.53 1689.0 1288.57 1690.0 1288.61 1691.0 1288.66 1692.0 1288.70 1693.0 1288.74 1694.0 1288.79 1695.0 1288.83 1696.0 1288.88 1697.0 1288.92 1698.0 1288.97 1699.0 1289.01 1700.0 1289.06 1701.0 1289.11 1702.0 1289.15 1703.0 1289.20 1704.0 1289.25 1705.0 1289.30 1706.0 1289.35 1707.0 1289.39 1708.0 1289.44 1709.0 1289.49 1710.0 1289.54 1711.0 1289.60 1712.0 1289.65 1713.0 1289.70 1714.0 1289.75 1715.0 1289.80 1716.0 1289.86 1717.0 1289.91 1718.0 1289.96 1719.0 1290.02 1720.0 1290.07 1721.0 1290.13 1722.0 1290.18 1723.0 1290.24 1724.0 1290.30 1725.0 1290.35 1726.0 1290.41 1727.0 1290.47 1728.0 1290.52 1729.0 1290.58 1730.0 1290.64 1731.0 1290.70 1732.0 1290.76 1733.0 1290.82 1734.0 1290.88 1735.0 1290.94 1736.0 1291.00 1737.0 1291.06 1738.0 1291.13 1739.0 1291.19 1740.0 1291.25 1741.0 1291.31 1742.0 1291.38 1743.0 1291.44 1744.0 1291.50 1745.0 1291.57 1746.0 1291.63 1747.0 1291.70 1748.0 1291.77 1749.0 1291.83 1750.0 1291.90 1751.0 1291.97 1752.0 1292.03 1753.0 1292.10 1754.0 1292.17 1755.0 1292.24 1756.0 1292.31 1757.0 1292.37 1758.0 1292.44 1759.0 1292.51 1760.0 1292.58 1761.0 1292.66 1762.0 1292.73 1763.0 1292.80 1764.0 1292.87 1765.0 1292.94 1766.0 1293.01 1767.0 1293.09 1768.0 1293.16 1769.0 1293.23 1770.0 1293.31 1771.0 1293.38 1772.0 1293.46 1773.0 1293.53 1774.0 1293.61 1775.0 1293.68 1776.0 1293.76 1777.0 1293.84 1778.0 1293.91 1779.0 1293.99 1780.0 1294.07 1781.0 1294.15 1782.0 1294.23 1783.0 1294.30 1784.0 1294.38 1785.0 1294.46 1786.0 1294.54 1787.0 1294.62 1788.0 1294.70 1789.0 1294.78 1790.0 1294.86 1791.0 1294.95 1792.0 1295.03 1793.0 1295.11 1794.0 1295.19 1795.0 1295.28 1796.0 1295.36 1797.0 1295.44 1798.0 1295.53 1799.0 1295.61 1800.0 1295.69 1801.0 1295.78 1802.0 1295.86 1803.0 1295.95 1804.0 1296.04 1805.0 1296.12 1806.0 1296.21 1807.0 1296.30 1808.0 1296.38 1809.0 1296.47 1810.0 1296.56 1811.0 1296.65 1812.0 1296.73 1813.0 1296.82 1814.0 1296.91 1815.0 1297.00 1816.0 1297.09 1817.0 1297.18 1818.0 1297.27 1819.0 1297.36 1820.0 1297.45 1821.0 1297.54 1822.0 1297.64 1823.0 1297.73 1824.0 1297.82 1825.0 1297.91 1826.0 1298.01 1827.0 1298.10 1828.0 1298.19 1829.0 1298.29 1830.0 1298.38 1831.0 1298.47 1832.0 1298.57 1833.0 1298.66 1834.0 1298.76 1835.0 1298.85 1836.0 1298.95 1837.0 1299.05 1838.0 1299.14 1839.0 1299.24 1840.0 1299.33 1841.0 1299.43 1842.0 1299.53 1843.0 1299.63 1844.0 1299.72 1845.0 1299.82 1846.0 1299.92 1847.0 1300.02 1848.0 1300.12 1849.0 1300.22 1850.0 1300.32 1851.0 1300.42 1852.0 1300.52 1853.0 1300.62 1854.0 1300.72 1855.0 1300.82 1856.0 1300.92 1857.0 1301.02 1858.0 1301.12 1859.0 1301.23 1860.0 1301.33 1861.0 1301.43 1862.0 1301.53 1863.0 1301.64 1864.0 1301.74 1865.0 1301.84 1866.0 1301.95 1867.0 1302.05 1868.0 1302.16 1869.0 1302.26 1870.0 1302.36 1871.0 1302.47 1872.0 1302.57 1873.0 1302.68 1874.0 1302.79 1875.0 1302.89 1876.0 1303.00 1877.0 1303.10 1878.0 1303.21 1879.0 1303.32 1880.0 1303.42 1881.0 1303.53 1882.0 1303.64 1883.0 1303.75 1884.0 1303.85 1885.0 1303.96 1886.0 1304.07 1887.0 1304.18 1888.0 1304.29 1889.0 1304.40 1890.0 1304.51 1891.0 1304.62 1892.0 1304.73 1893.0 1304.84 1894.0 1304.95 1895.0 1305.06 1896.0 1305.17 1897.0 1305.28 1898.0 1305.39 1899.0 1305.50 1900.0 1305.61 1901.0 1305.72 1902.0 1305.83 1903.0 1305.95 1904.0 1306.06 1905.0 1306.17 1906.0 1306.28 1907.0 1306.39 1908.0 1306.51 1909.0 1306.62" fill="none" stroke="#000" stroke-width="3.6" stroke-dasharray="22 11.34" stroke-dashoffset="0.7"/>
</svg></body></html>
